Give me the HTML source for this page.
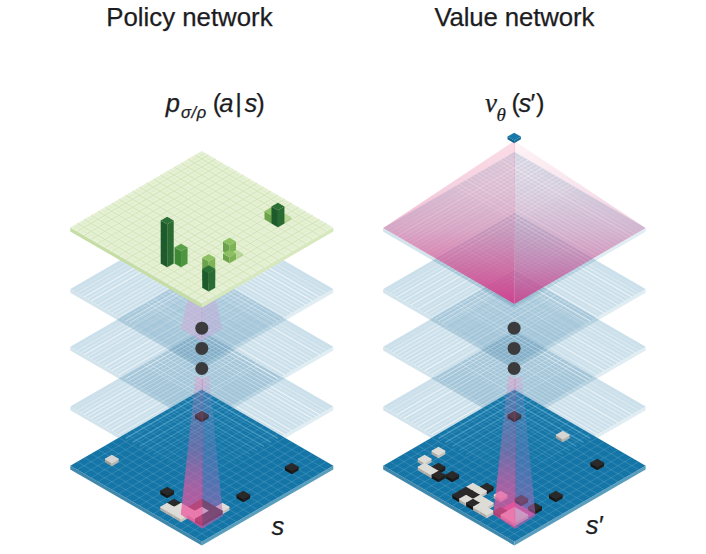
<!DOCTYPE html>
<html><head><meta charset="utf-8"><title>Policy and value networks</title>
<style>html,body{margin:0;padding:0;background:#fff;}body{width:706px;height:554px;overflow:hidden;font-family:"Liberation Sans",sans-serif;}svg{display:block;}</style>
</head><body>
<svg width="706" height="554" viewBox="0 0 706 554" style="isolation:isolate">
<rect width="706" height="554" fill="#ffffff"/>
<defs><filter id="soft" x="0" y="0" width="100%" height="100%" filterUnits="userSpaceOnUse" color-interpolation-filters="sRGB"><feGaussianBlur stdDeviation="0.45"/></filter></defs>
<g filter="url(#soft)">
<rect width="706" height="554" fill="#ffffff"/>
<defs><clipPath id="cbp"><polygon points="201.8,389.7 333.3,465.7 201.8,541.7 70.3,465.7"/></clipPath></defs>
<g style="mix-blend-mode:multiply">
<polygon points="70.3,406.4 201.8,482.4 201.8,486.2 70.3,410.2" fill="#d3e4ec" />
<polygon points="201.8,482.4 333.3,406.4 333.3,410.2 201.8,486.2" fill="#e0edf2" />
<polygon points="201.8,330.4 333.3,406.4 201.8,482.4 70.3,406.4" fill="#cbe0eb" />
</g>
<path d="M208.72 334.4L77.22 410.4" stroke="#ffffff" stroke-width="0.9" stroke-opacity="0.23" fill="none"/>
<path d="M215.64 338.4L84.14 414.4" stroke="#ffffff" stroke-width="0.9" stroke-opacity="0.21" fill="none"/>
<path d="M222.56 342.4L91.06 418.4" stroke="#ffffff" stroke-width="0.9" stroke-opacity="0.2" fill="none"/>
<path d="M229.48 346.4L97.98 422.4" stroke="#ffffff" stroke-width="0.9" stroke-opacity="0.19" fill="none"/>
<path d="M236.41 350.4L104.91 426.4" stroke="#ffffff" stroke-width="0.9" stroke-opacity="0.17" fill="none"/>
<path d="M243.33 354.4L111.83 430.4" stroke="#ffffff" stroke-width="0.9" stroke-opacity="0.16" fill="none"/>
<path d="M250.25 358.4L118.75 434.4" stroke="#ffffff" stroke-width="0.9" stroke-opacity="0.14" fill="none"/>
<path d="M257.17 362.4L125.67 438.4" stroke="#ffffff" stroke-width="0.9" stroke-opacity="0.13" fill="none"/>
<path d="M264.09 366.4L132.59 442.4" stroke="#ffffff" stroke-width="0.9" stroke-opacity="0.12" fill="none"/>
<path d="M271.01 370.4L139.51 446.4" stroke="#ffffff" stroke-width="0.9" stroke-opacity="0.1" fill="none"/>
<path d="M277.93 374.4L146.43 450.4" stroke="#ffffff" stroke-width="0.9" stroke-opacity="0.09" fill="none"/>
<path d="M284.85 378.4L153.35 454.4" stroke="#ffffff" stroke-width="0.9" stroke-opacity="0.08" fill="none"/>
<path d="M291.77 382.4L160.27 458.4" stroke="#ffffff" stroke-width="0.9" stroke-opacity="0.06" fill="none"/>
<path d="M298.69 386.4L167.19 462.4M305.62 390.4L174.12 466.4M312.54 394.4L181.04 470.4M319.46 398.4L187.96 474.4M326.38 402.4L194.88 478.4" stroke="#ffffff" stroke-width="0.9" stroke-opacity="0.05" fill="none"/>
<path d="M194.88 334.4L326.38 410.4" stroke="#ffffff" stroke-width="0.9" stroke-opacity="0.23" fill="none"/>
<path d="M187.96 338.4L319.46 414.4" stroke="#ffffff" stroke-width="0.9" stroke-opacity="0.21" fill="none"/>
<path d="M181.04 342.4L312.54 418.4" stroke="#ffffff" stroke-width="0.9" stroke-opacity="0.2" fill="none"/>
<path d="M174.12 346.4L305.62 422.4" stroke="#ffffff" stroke-width="0.9" stroke-opacity="0.19" fill="none"/>
<path d="M167.19 350.4L298.69 426.4" stroke="#ffffff" stroke-width="0.9" stroke-opacity="0.17" fill="none"/>
<path d="M160.27 354.4L291.77 430.4" stroke="#ffffff" stroke-width="0.9" stroke-opacity="0.16" fill="none"/>
<path d="M153.35 358.4L284.85 434.4" stroke="#ffffff" stroke-width="0.9" stroke-opacity="0.14" fill="none"/>
<path d="M146.43 362.4L277.93 438.4" stroke="#ffffff" stroke-width="0.9" stroke-opacity="0.13" fill="none"/>
<path d="M139.51 366.4L271.01 442.4" stroke="#ffffff" stroke-width="0.9" stroke-opacity="0.12" fill="none"/>
<path d="M132.59 370.4L264.09 446.4" stroke="#ffffff" stroke-width="0.9" stroke-opacity="0.1" fill="none"/>
<path d="M125.67 374.4L257.17 450.4" stroke="#ffffff" stroke-width="0.9" stroke-opacity="0.09" fill="none"/>
<path d="M118.75 378.4L250.25 454.4" stroke="#ffffff" stroke-width="0.9" stroke-opacity="0.08" fill="none"/>
<path d="M111.83 382.4L243.33 458.4" stroke="#ffffff" stroke-width="0.9" stroke-opacity="0.06" fill="none"/>
<path d="M104.91 386.4L236.41 462.4M97.98 390.4L229.48 466.4M91.06 394.4L222.56 470.4M84.14 398.4L215.64 474.4M77.22 402.4L208.72 478.4" stroke="#ffffff" stroke-width="0.9" stroke-opacity="0.05" fill="none"/>
<path d="M205.26 332.4L73.76 408.4M271.01 370.4L139.51 446.4" stroke="#ffffff" stroke-width="1.2" stroke-opacity="0.15" fill="none"/>
<path d="M208.72 334.4L77.22 410.4" stroke="#ffffff" stroke-width="1.2" stroke-opacity="0.2" fill="none"/>
<path d="M212.18 336.4L80.68 412.4" stroke="#ffffff" stroke-width="1.2" stroke-opacity="0.35" fill="none"/>
<path d="M215.64 338.4L84.14 414.4" stroke="#ffffff" stroke-width="1.2" stroke-opacity="0.5" fill="none"/>
<path d="M219.1 340.4L87.6 416.4M222.56 342.4L91.06 418.4" stroke="#ffffff" stroke-width="1.2" stroke-opacity="0.47" fill="none"/>
<path d="M226.02 344.4L94.52 420.4" stroke="#ffffff" stroke-width="1.2" stroke-opacity="0.36" fill="none"/>
<path d="M229.48 346.4L97.98 422.4" stroke="#ffffff" stroke-width="1.2" stroke-opacity="0.51" fill="none"/>
<path d="M232.94 348.4L101.44 424.4" stroke="#ffffff" stroke-width="1.2" stroke-opacity="0.27" fill="none"/>
<path d="M236.41 350.4L104.91 426.4" stroke="#ffffff" stroke-width="1.2" stroke-opacity="0.48" fill="none"/>
<path d="M239.87 352.4L108.37 428.4" stroke="#ffffff" stroke-width="1.2" stroke-opacity="0.39" fill="none"/>
<path d="M243.33 354.4L111.83 430.4" stroke="#ffffff" stroke-width="1.2" stroke-opacity="0.58" fill="none"/>
<path d="M246.79 356.4L115.29 432.4M253.71 360.4L122.21 436.4" stroke="#ffffff" stroke-width="1.2" stroke-opacity="0.25" fill="none"/>
<path d="M250.25 358.4L118.75 434.4M260.63 364.4L129.13 440.4" stroke="#ffffff" stroke-width="1.2" stroke-opacity="0.41" fill="none"/>
<path d="M257.17 362.4L125.67 438.4" stroke="#ffffff" stroke-width="1.2" stroke-opacity="0.59" fill="none"/>
<path d="M264.09 366.4L132.59 442.4" stroke="#ffffff" stroke-width="1.2" stroke-opacity="0.11" fill="none"/>
<path d="M267.55 368.4L136.05 444.4" stroke="#ffffff" stroke-width="1.2" stroke-opacity="0.13" fill="none"/>
<path d="M274.47 372.4L142.97 448.4M277.93 374.4L146.43 450.4" stroke="#ffffff" stroke-width="1.2" stroke-opacity="0.08" fill="none"/>
<path d="M281.39 376.4L149.89 452.4" stroke="#ffffff" stroke-width="1.2" stroke-opacity="0.03" fill="none"/>
<path d="M284.85 378.4L153.35 454.4" stroke="#ffffff" stroke-width="1.2" stroke-opacity="0.02" fill="none"/>
<path d="M288.31 380.4L156.81 456.4" stroke="#ffffff" stroke-width="1.2" stroke-opacity="0.01" fill="none"/>
<path d="M198.34 332.4L329.84 408.4" stroke="#ffffff" stroke-width="1.2" stroke-opacity="0.15" fill="none"/>
<path d="M194.88 334.4L326.38 410.4" stroke="#ffffff" stroke-width="1.2" stroke-opacity="0.2" fill="none"/>
<path d="M191.42 336.4L322.92 412.4" stroke="#ffffff" stroke-width="1.2" stroke-opacity="0.3" fill="none"/>
<path d="M187.96 338.4L319.46 414.4" stroke="#ffffff" stroke-width="1.2" stroke-opacity="0.66" fill="none"/>
<path d="M184.5 340.4L316 416.4" stroke="#ffffff" stroke-width="1.2" stroke-opacity="0.49" fill="none"/>
<path d="M181.04 342.4L312.54 418.4M153.35 358.4L284.85 434.4" stroke="#ffffff" stroke-width="1.2" stroke-opacity="0.6" fill="none"/>
<path d="M177.58 344.4L309.08 420.4" stroke="#ffffff" stroke-width="1.2" stroke-opacity="0.42" fill="none"/>
<path d="M174.12 346.4L305.62 422.4" stroke="#ffffff" stroke-width="1.2" stroke-opacity="0.41" fill="none"/>
<path d="M170.66 348.4L302.16 424.4" stroke="#ffffff" stroke-width="1.2" stroke-opacity="0.29" fill="none"/>
<path d="M167.19 350.4L298.69 426.4" stroke="#ffffff" stroke-width="1.2" stroke-opacity="0.4" fill="none"/>
<path d="M163.73 352.4L295.23 428.4" stroke="#ffffff" stroke-width="1.2" stroke-opacity="0.24" fill="none"/>
<path d="M160.27 354.4L291.77 430.4" stroke="#ffffff" stroke-width="1.2" stroke-opacity="0.58" fill="none"/>
<path d="M156.81 356.4L288.31 432.4M149.89 360.4L281.39 436.4" stroke="#ffffff" stroke-width="1.2" stroke-opacity="0.33" fill="none"/>
<path d="M146.43 362.4L277.93 438.4" stroke="#ffffff" stroke-width="1.2" stroke-opacity="0.64" fill="none"/>
<path d="M142.97 364.4L274.47 440.4" stroke="#ffffff" stroke-width="1.2" stroke-opacity="0.45" fill="none"/>
<path d="M139.51 366.4L271.01 442.4M125.67 374.4L257.17 450.4" stroke="#ffffff" stroke-width="1.2" stroke-opacity="0.1" fill="none"/>
<path d="M136.05 368.4L267.55 444.4" stroke="#ffffff" stroke-width="1.2" stroke-opacity="0.08" fill="none"/>
<path d="M132.59 370.4L264.09 446.4" stroke="#ffffff" stroke-width="1.2" stroke-opacity="0.14" fill="none"/>
<path d="M129.13 372.4L260.63 448.4" stroke="#ffffff" stroke-width="1.2" stroke-opacity="0.07" fill="none"/>
<path d="M122.21 376.4L253.71 452.4" stroke="#ffffff" stroke-width="1.2" stroke-opacity="0.04" fill="none"/>
<path d="M118.75 378.4L250.25 454.4" stroke="#ffffff" stroke-width="1.2" stroke-opacity="0.02" fill="none"/>
<path d="M115.29 380.4L246.79 456.4" stroke="#ffffff" stroke-width="1.2" stroke-opacity="0.01" fill="none"/>
<g style="mix-blend-mode:multiply">
<polygon points="70.3,346.7 201.8,422.7 201.8,426.5 70.3,350.5" fill="#d3e4ec" />
<polygon points="201.8,422.7 333.3,346.7 333.3,350.5 201.8,426.5" fill="#e0edf2" />
<polygon points="201.8,270.7 333.3,346.7 201.8,422.7 70.3,346.7" fill="#cbe0eb" />
</g>
<path d="M208.72 274.7L77.22 350.7" stroke="#ffffff" stroke-width="0.9" stroke-opacity="0.23" fill="none"/>
<path d="M215.64 278.7L84.14 354.7" stroke="#ffffff" stroke-width="0.9" stroke-opacity="0.21" fill="none"/>
<path d="M222.56 282.7L91.06 358.7" stroke="#ffffff" stroke-width="0.9" stroke-opacity="0.2" fill="none"/>
<path d="M229.48 286.7L97.98 362.7" stroke="#ffffff" stroke-width="0.9" stroke-opacity="0.19" fill="none"/>
<path d="M236.41 290.7L104.91 366.7" stroke="#ffffff" stroke-width="0.9" stroke-opacity="0.17" fill="none"/>
<path d="M243.33 294.7L111.83 370.7" stroke="#ffffff" stroke-width="0.9" stroke-opacity="0.16" fill="none"/>
<path d="M250.25 298.7L118.75 374.7" stroke="#ffffff" stroke-width="0.9" stroke-opacity="0.14" fill="none"/>
<path d="M257.17 302.7L125.67 378.7" stroke="#ffffff" stroke-width="0.9" stroke-opacity="0.13" fill="none"/>
<path d="M264.09 306.7L132.59 382.7" stroke="#ffffff" stroke-width="0.9" stroke-opacity="0.12" fill="none"/>
<path d="M271.01 310.7L139.51 386.7" stroke="#ffffff" stroke-width="0.9" stroke-opacity="0.1" fill="none"/>
<path d="M277.93 314.7L146.43 390.7" stroke="#ffffff" stroke-width="0.9" stroke-opacity="0.09" fill="none"/>
<path d="M284.85 318.7L153.35 394.7" stroke="#ffffff" stroke-width="0.9" stroke-opacity="0.08" fill="none"/>
<path d="M291.77 322.7L160.27 398.7" stroke="#ffffff" stroke-width="0.9" stroke-opacity="0.06" fill="none"/>
<path d="M298.69 326.7L167.19 402.7M305.62 330.7L174.12 406.7M312.54 334.7L181.04 410.7M319.46 338.7L187.96 414.7M326.38 342.7L194.88 418.7" stroke="#ffffff" stroke-width="0.9" stroke-opacity="0.05" fill="none"/>
<path d="M194.88 274.7L326.38 350.7" stroke="#ffffff" stroke-width="0.9" stroke-opacity="0.23" fill="none"/>
<path d="M187.96 278.7L319.46 354.7" stroke="#ffffff" stroke-width="0.9" stroke-opacity="0.21" fill="none"/>
<path d="M181.04 282.7L312.54 358.7" stroke="#ffffff" stroke-width="0.9" stroke-opacity="0.2" fill="none"/>
<path d="M174.12 286.7L305.62 362.7" stroke="#ffffff" stroke-width="0.9" stroke-opacity="0.19" fill="none"/>
<path d="M167.19 290.7L298.69 366.7" stroke="#ffffff" stroke-width="0.9" stroke-opacity="0.17" fill="none"/>
<path d="M160.27 294.7L291.77 370.7" stroke="#ffffff" stroke-width="0.9" stroke-opacity="0.16" fill="none"/>
<path d="M153.35 298.7L284.85 374.7" stroke="#ffffff" stroke-width="0.9" stroke-opacity="0.14" fill="none"/>
<path d="M146.43 302.7L277.93 378.7" stroke="#ffffff" stroke-width="0.9" stroke-opacity="0.13" fill="none"/>
<path d="M139.51 306.7L271.01 382.7" stroke="#ffffff" stroke-width="0.9" stroke-opacity="0.12" fill="none"/>
<path d="M132.59 310.7L264.09 386.7" stroke="#ffffff" stroke-width="0.9" stroke-opacity="0.1" fill="none"/>
<path d="M125.67 314.7L257.17 390.7" stroke="#ffffff" stroke-width="0.9" stroke-opacity="0.09" fill="none"/>
<path d="M118.75 318.7L250.25 394.7" stroke="#ffffff" stroke-width="0.9" stroke-opacity="0.08" fill="none"/>
<path d="M111.83 322.7L243.33 398.7" stroke="#ffffff" stroke-width="0.9" stroke-opacity="0.06" fill="none"/>
<path d="M104.91 326.7L236.41 402.7M97.98 330.7L229.48 406.7M91.06 334.7L222.56 410.7M84.14 338.7L215.64 414.7M77.22 342.7L208.72 418.7" stroke="#ffffff" stroke-width="0.9" stroke-opacity="0.05" fill="none"/>
<path d="M205.26 272.7L73.76 348.7" stroke="#ffffff" stroke-width="1.2" stroke-opacity="0.15" fill="none"/>
<path d="M208.72 274.7L77.22 350.7" stroke="#ffffff" stroke-width="1.2" stroke-opacity="0.2" fill="none"/>
<path d="M212.18 276.7L80.68 352.7M222.56 282.7L91.06 358.7" stroke="#ffffff" stroke-width="1.2" stroke-opacity="0.35" fill="none"/>
<path d="M215.64 278.7L84.14 354.7M250.25 298.7L118.75 374.7" stroke="#ffffff" stroke-width="1.2" stroke-opacity="0.54" fill="none"/>
<path d="M219.1 280.7L87.6 356.7" stroke="#ffffff" stroke-width="1.2" stroke-opacity="0.4" fill="none"/>
<path d="M226.02 284.7L94.52 360.7" stroke="#ffffff" stroke-width="1.2" stroke-opacity="0.23" fill="none"/>
<path d="M229.48 286.7L97.98 362.7" stroke="#ffffff" stroke-width="1.2" stroke-opacity="0.43" fill="none"/>
<path d="M232.94 288.7L101.44 364.7" stroke="#ffffff" stroke-width="1.2" stroke-opacity="0.3" fill="none"/>
<path d="M236.41 290.7L104.91 366.7" stroke="#ffffff" stroke-width="1.2" stroke-opacity="0.59" fill="none"/>
<path d="M239.87 292.7L108.37 368.7" stroke="#ffffff" stroke-width="1.2" stroke-opacity="0.41" fill="none"/>
<path d="M243.33 294.7L111.83 370.7" stroke="#ffffff" stroke-width="1.2" stroke-opacity="0.52" fill="none"/>
<path d="M246.79 296.7L115.29 372.7" stroke="#ffffff" stroke-width="1.2" stroke-opacity="0.37" fill="none"/>
<path d="M253.71 300.7L122.21 376.7" stroke="#ffffff" stroke-width="1.2" stroke-opacity="0.26" fill="none"/>
<path d="M257.17 302.7L125.67 378.7" stroke="#ffffff" stroke-width="1.2" stroke-opacity="0.46" fill="none"/>
<path d="M260.63 304.7L129.13 380.7" stroke="#ffffff" stroke-width="1.2" stroke-opacity="0.27" fill="none"/>
<path d="M264.09 306.7L132.59 382.7" stroke="#ffffff" stroke-width="1.2" stroke-opacity="0.19" fill="none"/>
<path d="M267.55 308.7L136.05 384.7" stroke="#ffffff" stroke-width="1.2" stroke-opacity="0.07" fill="none"/>
<path d="M271.01 310.7L139.51 386.7" stroke="#ffffff" stroke-width="1.2" stroke-opacity="0.14" fill="none"/>
<path d="M274.47 312.7L142.97 388.7" stroke="#ffffff" stroke-width="1.2" stroke-opacity="0.05" fill="none"/>
<path d="M277.93 314.7L146.43 390.7" stroke="#ffffff" stroke-width="1.2" stroke-opacity="0.08" fill="none"/>
<path d="M281.39 316.7L149.89 392.7" stroke="#ffffff" stroke-width="1.2" stroke-opacity="0.04" fill="none"/>
<path d="M284.85 318.7L153.35 394.7" stroke="#ffffff" stroke-width="1.2" stroke-opacity="0.03" fill="none"/>
<path d="M288.31 320.7L156.81 396.7" stroke="#ffffff" stroke-width="1.2" stroke-opacity="0.01" fill="none"/>
<path d="M198.34 272.7L329.84 348.7" stroke="#ffffff" stroke-width="1.2" stroke-opacity="0.15" fill="none"/>
<path d="M194.88 274.7L326.38 350.7" stroke="#ffffff" stroke-width="1.2" stroke-opacity="0.2" fill="none"/>
<path d="M191.42 276.7L322.92 352.7" stroke="#ffffff" stroke-width="1.2" stroke-opacity="0.27" fill="none"/>
<path d="M187.96 278.7L319.46 354.7" stroke="#ffffff" stroke-width="1.2" stroke-opacity="0.55" fill="none"/>
<path d="M184.5 280.7L316 356.7" stroke="#ffffff" stroke-width="1.2" stroke-opacity="0.24" fill="none"/>
<path d="M181.04 282.7L312.54 358.7" stroke="#ffffff" stroke-width="1.2" stroke-opacity="0.36" fill="none"/>
<path d="M177.58 284.7L309.08 360.7M174.12 286.7L305.62 362.7M160.27 294.7L291.77 370.7" stroke="#ffffff" stroke-width="1.2" stroke-opacity="0.44" fill="none"/>
<path d="M170.66 288.7L302.16 364.7" stroke="#ffffff" stroke-width="1.2" stroke-opacity="0.34" fill="none"/>
<path d="M167.19 290.7L298.69 366.7" stroke="#ffffff" stroke-width="1.2" stroke-opacity="0.51" fill="none"/>
<path d="M163.73 292.7L295.23 368.7" stroke="#ffffff" stroke-width="1.2" stroke-opacity="0.35" fill="none"/>
<path d="M156.81 296.7L288.31 372.7" stroke="#ffffff" stroke-width="1.2" stroke-opacity="0.23" fill="none"/>
<path d="M153.35 298.7L284.85 374.7" stroke="#ffffff" stroke-width="1.2" stroke-opacity="0.56" fill="none"/>
<path d="M149.89 300.7L281.39 376.7" stroke="#ffffff" stroke-width="1.2" stroke-opacity="0.49" fill="none"/>
<path d="M146.43 302.7L277.93 378.7" stroke="#ffffff" stroke-width="1.2" stroke-opacity="0.65" fill="none"/>
<path d="M142.97 304.7L274.47 380.7" stroke="#ffffff" stroke-width="1.2" stroke-opacity="0.4" fill="none"/>
<path d="M139.51 306.7L271.01 382.7" stroke="#ffffff" stroke-width="1.2" stroke-opacity="0.14" fill="none"/>
<path d="M136.05 308.7L267.55 384.7" stroke="#ffffff" stroke-width="1.2" stroke-opacity="0.09" fill="none"/>
<path d="M132.59 310.7L264.09 386.7" stroke="#ffffff" stroke-width="1.2" stroke-opacity="0.13" fill="none"/>
<path d="M129.13 312.7L260.63 388.7" stroke="#ffffff" stroke-width="1.2" stroke-opacity="0.08" fill="none"/>
<path d="M125.67 314.7L257.17 390.7" stroke="#ffffff" stroke-width="1.2" stroke-opacity="0.06" fill="none"/>
<path d="M122.21 316.7L253.71 392.7M118.75 318.7L250.25 394.7" stroke="#ffffff" stroke-width="1.2" stroke-opacity="0.03" fill="none"/>
<path d="M115.29 320.7L246.79 396.7" stroke="#ffffff" stroke-width="1.2" stroke-opacity="0.01" fill="none"/>
<g style="mix-blend-mode:multiply">
<polygon points="70.3,289 201.8,365 201.8,368.8 70.3,292.8" fill="#d3e4ec" />
<polygon points="201.8,365 333.3,289 333.3,292.8 201.8,368.8" fill="#e0edf2" />
<polygon points="201.8,213 333.3,289 201.8,365 70.3,289" fill="#cbe0eb" />
</g>
<path d="M208.72 217L77.22 293" stroke="#ffffff" stroke-width="0.9" stroke-opacity="0.23" fill="none"/>
<path d="M215.64 221L84.14 297" stroke="#ffffff" stroke-width="0.9" stroke-opacity="0.21" fill="none"/>
<path d="M222.56 225L91.06 301" stroke="#ffffff" stroke-width="0.9" stroke-opacity="0.2" fill="none"/>
<path d="M229.48 229L97.98 305" stroke="#ffffff" stroke-width="0.9" stroke-opacity="0.19" fill="none"/>
<path d="M236.41 233L104.91 309" stroke="#ffffff" stroke-width="0.9" stroke-opacity="0.17" fill="none"/>
<path d="M243.33 237L111.83 313" stroke="#ffffff" stroke-width="0.9" stroke-opacity="0.16" fill="none"/>
<path d="M250.25 241L118.75 317" stroke="#ffffff" stroke-width="0.9" stroke-opacity="0.14" fill="none"/>
<path d="M257.17 245L125.67 321" stroke="#ffffff" stroke-width="0.9" stroke-opacity="0.13" fill="none"/>
<path d="M264.09 249L132.59 325" stroke="#ffffff" stroke-width="0.9" stroke-opacity="0.12" fill="none"/>
<path d="M271.01 253L139.51 329" stroke="#ffffff" stroke-width="0.9" stroke-opacity="0.1" fill="none"/>
<path d="M277.93 257L146.43 333" stroke="#ffffff" stroke-width="0.9" stroke-opacity="0.09" fill="none"/>
<path d="M284.85 261L153.35 337" stroke="#ffffff" stroke-width="0.9" stroke-opacity="0.08" fill="none"/>
<path d="M291.77 265L160.27 341" stroke="#ffffff" stroke-width="0.9" stroke-opacity="0.06" fill="none"/>
<path d="M298.69 269L167.19 345M305.62 273L174.12 349M312.54 277L181.04 353M319.46 281L187.96 357M326.38 285L194.88 361" stroke="#ffffff" stroke-width="0.9" stroke-opacity="0.05" fill="none"/>
<path d="M194.88 217L326.38 293" stroke="#ffffff" stroke-width="0.9" stroke-opacity="0.23" fill="none"/>
<path d="M187.96 221L319.46 297" stroke="#ffffff" stroke-width="0.9" stroke-opacity="0.21" fill="none"/>
<path d="M181.04 225L312.54 301" stroke="#ffffff" stroke-width="0.9" stroke-opacity="0.2" fill="none"/>
<path d="M174.12 229L305.62 305" stroke="#ffffff" stroke-width="0.9" stroke-opacity="0.19" fill="none"/>
<path d="M167.19 233L298.69 309" stroke="#ffffff" stroke-width="0.9" stroke-opacity="0.17" fill="none"/>
<path d="M160.27 237L291.77 313" stroke="#ffffff" stroke-width="0.9" stroke-opacity="0.16" fill="none"/>
<path d="M153.35 241L284.85 317" stroke="#ffffff" stroke-width="0.9" stroke-opacity="0.14" fill="none"/>
<path d="M146.43 245L277.93 321" stroke="#ffffff" stroke-width="0.9" stroke-opacity="0.13" fill="none"/>
<path d="M139.51 249L271.01 325" stroke="#ffffff" stroke-width="0.9" stroke-opacity="0.12" fill="none"/>
<path d="M132.59 253L264.09 329" stroke="#ffffff" stroke-width="0.9" stroke-opacity="0.1" fill="none"/>
<path d="M125.67 257L257.17 333" stroke="#ffffff" stroke-width="0.9" stroke-opacity="0.09" fill="none"/>
<path d="M118.75 261L250.25 337" stroke="#ffffff" stroke-width="0.9" stroke-opacity="0.08" fill="none"/>
<path d="M111.83 265L243.33 341" stroke="#ffffff" stroke-width="0.9" stroke-opacity="0.06" fill="none"/>
<path d="M104.91 269L236.41 345M97.98 273L229.48 349M91.06 277L222.56 353M84.14 281L215.64 357M77.22 285L208.72 361" stroke="#ffffff" stroke-width="0.9" stroke-opacity="0.05" fill="none"/>
<path d="M205.26 215L73.76 291" stroke="#ffffff" stroke-width="1.2" stroke-opacity="0.15" fill="none"/>
<path d="M208.72 217L77.22 293" stroke="#ffffff" stroke-width="1.2" stroke-opacity="0.2" fill="none"/>
<path d="M212.18 219L80.68 295" stroke="#ffffff" stroke-width="1.2" stroke-opacity="0.29" fill="none"/>
<path d="M215.64 221L84.14 297" stroke="#ffffff" stroke-width="1.2" stroke-opacity="0.55" fill="none"/>
<path d="M219.1 223L87.6 299" stroke="#ffffff" stroke-width="1.2" stroke-opacity="0.41" fill="none"/>
<path d="M222.56 225L91.06 301" stroke="#ffffff" stroke-width="1.2" stroke-opacity="0.61" fill="none"/>
<path d="M226.02 227L94.52 303" stroke="#ffffff" stroke-width="1.2" stroke-opacity="0.27" fill="none"/>
<path d="M229.48 229L97.98 305M236.41 233L104.91 309" stroke="#ffffff" stroke-width="1.2" stroke-opacity="0.38" fill="none"/>
<path d="M232.94 231L101.44 307" stroke="#ffffff" stroke-width="1.2" stroke-opacity="0.26" fill="none"/>
<path d="M239.87 235L108.37 311" stroke="#ffffff" stroke-width="1.2" stroke-opacity="0.42" fill="none"/>
<path d="M243.33 237L111.83 313" stroke="#ffffff" stroke-width="1.2" stroke-opacity="0.34" fill="none"/>
<path d="M246.79 239L115.29 315M250.25 241L118.75 317" stroke="#ffffff" stroke-width="1.2" stroke-opacity="0.37" fill="none"/>
<path d="M253.71 243L122.21 319" stroke="#ffffff" stroke-width="1.2" stroke-opacity="0.3" fill="none"/>
<path d="M257.17 245L125.67 321M260.63 247L129.13 323" stroke="#ffffff" stroke-width="1.2" stroke-opacity="0.45" fill="none"/>
<path d="M264.09 249L132.59 325" stroke="#ffffff" stroke-width="1.2" stroke-opacity="0.16" fill="none"/>
<path d="M267.55 251L136.05 327" stroke="#ffffff" stroke-width="1.2" stroke-opacity="0.07" fill="none"/>
<path d="M271.01 253L139.51 329" stroke="#ffffff" stroke-width="1.2" stroke-opacity="0.1" fill="none"/>
<path d="M274.47 255L142.97 331M281.39 259L149.89 335" stroke="#ffffff" stroke-width="1.2" stroke-opacity="0.05" fill="none"/>
<path d="M277.93 257L146.43 333" stroke="#ffffff" stroke-width="1.2" stroke-opacity="0.09" fill="none"/>
<path d="M284.85 261L153.35 337" stroke="#ffffff" stroke-width="1.2" stroke-opacity="0.04" fill="none"/>
<path d="M288.31 263L156.81 339" stroke="#ffffff" stroke-width="1.2" stroke-opacity="0.01" fill="none"/>
<path d="M198.34 215L329.84 291" stroke="#ffffff" stroke-width="1.2" stroke-opacity="0.15" fill="none"/>
<path d="M194.88 217L326.38 293" stroke="#ffffff" stroke-width="1.2" stroke-opacity="0.2" fill="none"/>
<path d="M191.42 219L322.92 295" stroke="#ffffff" stroke-width="1.2" stroke-opacity="0.25" fill="none"/>
<path d="M187.96 221L319.46 297" stroke="#ffffff" stroke-width="1.2" stroke-opacity="0.59" fill="none"/>
<path d="M184.5 223L316 299" stroke="#ffffff" stroke-width="1.2" stroke-opacity="0.44" fill="none"/>
<path d="M181.04 225L312.54 301" stroke="#ffffff" stroke-width="1.2" stroke-opacity="0.65" fill="none"/>
<path d="M177.58 227L309.08 303M163.73 235L295.23 311" stroke="#ffffff" stroke-width="1.2" stroke-opacity="0.41" fill="none"/>
<path d="M174.12 229L305.62 305" stroke="#ffffff" stroke-width="1.2" stroke-opacity="0.5" fill="none"/>
<path d="M170.66 231L302.16 307" stroke="#ffffff" stroke-width="1.2" stroke-opacity="0.43" fill="none"/>
<path d="M167.19 233L298.69 309M142.97 247L274.47 323" stroke="#ffffff" stroke-width="1.2" stroke-opacity="0.35" fill="none"/>
<path d="M160.27 237L291.77 313" stroke="#ffffff" stroke-width="1.2" stroke-opacity="0.46" fill="none"/>
<path d="M156.81 239L288.31 315" stroke="#ffffff" stroke-width="1.2" stroke-opacity="0.27" fill="none"/>
<path d="M153.35 241L284.85 317M149.89 243L281.39 319" stroke="#ffffff" stroke-width="1.2" stroke-opacity="0.37" fill="none"/>
<path d="M146.43 245L277.93 321" stroke="#ffffff" stroke-width="1.2" stroke-opacity="0.39" fill="none"/>
<path d="M139.51 249L271.01 325" stroke="#ffffff" stroke-width="1.2" stroke-opacity="0.16" fill="none"/>
<path d="M136.05 251L267.55 327M132.59 253L264.09 329" stroke="#ffffff" stroke-width="1.2" stroke-opacity="0.09" fill="none"/>
<path d="M129.13 255L260.63 331" stroke="#ffffff" stroke-width="1.2" stroke-opacity="0.07" fill="none"/>
<path d="M125.67 257L257.17 333" stroke="#ffffff" stroke-width="1.2" stroke-opacity="0.06" fill="none"/>
<path d="M122.21 259L253.71 335M118.75 261L250.25 337" stroke="#ffffff" stroke-width="1.2" stroke-opacity="0.03" fill="none"/>
<path d="M115.29 263L246.79 339" stroke="#ffffff" stroke-width="1.2" stroke-opacity="0.01" fill="none"/>
<polygon points="70.3,465.7 201.8,541.7 201.8,545.5 70.3,469.5" fill="#3f88ac" />
<polygon points="201.8,541.7 333.3,465.7 333.3,469.5 201.8,545.5" fill="#5a9ebd" />
<polygon points="201.8,389.7 333.3,465.7 201.8,541.7 70.3,465.7" fill="#1575a6" />
<path d="M208.72 393.7L77.22 469.7M215.64 397.7L84.14 473.7M222.56 401.7L91.06 477.7M229.48 405.7L97.98 481.7M236.41 409.7L104.91 485.7M243.33 413.7L111.83 489.7M250.25 417.7L118.75 493.7M257.17 421.7L125.67 497.7M264.09 425.7L132.59 501.7M271.01 429.7L139.51 505.7M277.93 433.7L146.43 509.7M284.85 437.7L153.35 513.7M291.77 441.7L160.27 517.7M298.69 445.7L167.19 521.7M305.62 449.7L174.12 525.7M312.54 453.7L181.04 529.7M319.46 457.7L187.96 533.7M326.38 461.7L194.88 537.7" stroke="#8cc6e2" stroke-width="0.8" stroke-opacity="0.3" fill="none"/>
<path d="M194.88 393.7L326.38 469.7M187.96 397.7L319.46 473.7M181.04 401.7L312.54 477.7M174.12 405.7L305.62 481.7M167.19 409.7L298.69 485.7M160.27 413.7L291.77 489.7M153.35 417.7L284.85 493.7M146.43 421.7L277.93 497.7M139.51 425.7L271.01 501.7M132.59 429.7L264.09 505.7M125.67 433.7L257.17 509.7M118.75 437.7L250.25 513.7M111.83 441.7L243.33 517.7M104.91 445.7L236.41 521.7M97.98 449.7L229.48 525.7M91.06 453.7L222.56 529.7M84.14 457.7L215.64 533.7M77.22 461.7L208.72 537.7" stroke="#8cc6e2" stroke-width="0.8" stroke-opacity="0.3" fill="none"/>
<path d="M208.72 334.4L77.22 410.4" stroke="#93d6f0" stroke-width="1.3" stroke-opacity="0.8" fill="none" clip-path="url(#cbp)"/>
<path d="M215.64 338.4L84.14 414.4" stroke="#93d6f0" stroke-width="1.3" stroke-opacity="0.74" fill="none" clip-path="url(#cbp)"/>
<path d="M222.56 342.4L91.06 418.4" stroke="#93d6f0" stroke-width="1.3" stroke-opacity="0.69" fill="none" clip-path="url(#cbp)"/>
<path d="M229.48 346.4L97.98 422.4" stroke="#93d6f0" stroke-width="1.3" stroke-opacity="0.63" fill="none" clip-path="url(#cbp)"/>
<path d="M236.41 350.4L104.91 426.4" stroke="#93d6f0" stroke-width="1.3" stroke-opacity="0.58" fill="none" clip-path="url(#cbp)"/>
<path d="M243.33 354.4L111.83 430.4" stroke="#93d6f0" stroke-width="1.3" stroke-opacity="0.53" fill="none" clip-path="url(#cbp)"/>
<path d="M250.25 358.4L118.75 434.4" stroke="#93d6f0" stroke-width="1.3" stroke-opacity="0.47" fill="none" clip-path="url(#cbp)"/>
<path d="M257.17 362.4L125.67 438.4" stroke="#93d6f0" stroke-width="1.3" stroke-opacity="0.42" fill="none" clip-path="url(#cbp)"/>
<path d="M264.09 366.4L132.59 442.4" stroke="#93d6f0" stroke-width="1.3" stroke-opacity="0.37" fill="none" clip-path="url(#cbp)"/>
<path d="M271.01 370.4L139.51 446.4" stroke="#93d6f0" stroke-width="1.3" stroke-opacity="0.31" fill="none" clip-path="url(#cbp)"/>
<path d="M277.93 374.4L146.43 450.4" stroke="#93d6f0" stroke-width="1.3" stroke-opacity="0.26" fill="none" clip-path="url(#cbp)"/>
<path d="M284.85 378.4L153.35 454.4" stroke="#93d6f0" stroke-width="1.3" stroke-opacity="0.2" fill="none" clip-path="url(#cbp)"/>
<path d="M291.77 382.4L160.27 458.4" stroke="#93d6f0" stroke-width="1.3" stroke-opacity="0.15" fill="none" clip-path="url(#cbp)"/>
<path d="M298.69 386.4L167.19 462.4" stroke="#93d6f0" stroke-width="1.3" stroke-opacity="0.1" fill="none" clip-path="url(#cbp)"/>
<path d="M305.62 390.4L174.12 466.4M312.54 394.4L181.04 470.4M319.46 398.4L187.96 474.4M326.38 402.4L194.88 478.4" stroke="#93d6f0" stroke-width="1.3" stroke-opacity="0.04" fill="none" clip-path="url(#cbp)"/>
<path d="M194.88 334.4L326.38 410.4" stroke="#93d6f0" stroke-width="1.3" stroke-opacity="0.8" fill="none" clip-path="url(#cbp)"/>
<path d="M187.96 338.4L319.46 414.4" stroke="#93d6f0" stroke-width="1.3" stroke-opacity="0.74" fill="none" clip-path="url(#cbp)"/>
<path d="M181.04 342.4L312.54 418.4" stroke="#93d6f0" stroke-width="1.3" stroke-opacity="0.69" fill="none" clip-path="url(#cbp)"/>
<path d="M174.12 346.4L305.62 422.4" stroke="#93d6f0" stroke-width="1.3" stroke-opacity="0.63" fill="none" clip-path="url(#cbp)"/>
<path d="M167.19 350.4L298.69 426.4" stroke="#93d6f0" stroke-width="1.3" stroke-opacity="0.58" fill="none" clip-path="url(#cbp)"/>
<path d="M160.27 354.4L291.77 430.4" stroke="#93d6f0" stroke-width="1.3" stroke-opacity="0.53" fill="none" clip-path="url(#cbp)"/>
<path d="M153.35 358.4L284.85 434.4" stroke="#93d6f0" stroke-width="1.3" stroke-opacity="0.47" fill="none" clip-path="url(#cbp)"/>
<path d="M146.43 362.4L277.93 438.4" stroke="#93d6f0" stroke-width="1.3" stroke-opacity="0.42" fill="none" clip-path="url(#cbp)"/>
<path d="M139.51 366.4L271.01 442.4" stroke="#93d6f0" stroke-width="1.3" stroke-opacity="0.37" fill="none" clip-path="url(#cbp)"/>
<path d="M132.59 370.4L264.09 446.4" stroke="#93d6f0" stroke-width="1.3" stroke-opacity="0.31" fill="none" clip-path="url(#cbp)"/>
<path d="M125.67 374.4L257.17 450.4" stroke="#93d6f0" stroke-width="1.3" stroke-opacity="0.26" fill="none" clip-path="url(#cbp)"/>
<path d="M118.75 378.4L250.25 454.4" stroke="#93d6f0" stroke-width="1.3" stroke-opacity="0.2" fill="none" clip-path="url(#cbp)"/>
<path d="M111.83 382.4L243.33 458.4" stroke="#93d6f0" stroke-width="1.3" stroke-opacity="0.15" fill="none" clip-path="url(#cbp)"/>
<path d="M104.91 386.4L236.41 462.4" stroke="#93d6f0" stroke-width="1.3" stroke-opacity="0.1" fill="none" clip-path="url(#cbp)"/>
<path d="M97.98 390.4L229.48 466.4M91.06 394.4L222.56 470.4M84.14 398.4L215.64 474.4M77.22 402.4L208.72 478.4" stroke="#93d6f0" stroke-width="1.3" stroke-opacity="0.04" fill="none" clip-path="url(#cbp)"/>
<path d="M208.72 274.7L77.22 350.7" stroke="#9fdcf4" stroke-width="0.9" stroke-opacity="0.28" fill="none" clip-path="url(#cbp)"/>
<path d="M215.64 278.7L84.14 354.7" stroke="#9fdcf4" stroke-width="0.9" stroke-opacity="0.25" fill="none" clip-path="url(#cbp)"/>
<path d="M222.56 282.7L91.06 358.7" stroke="#9fdcf4" stroke-width="0.9" stroke-opacity="0.23" fill="none" clip-path="url(#cbp)"/>
<path d="M229.48 286.7L97.98 362.7" stroke="#9fdcf4" stroke-width="0.9" stroke-opacity="0.2" fill="none" clip-path="url(#cbp)"/>
<path d="M236.41 290.7L104.91 366.7" stroke="#9fdcf4" stroke-width="0.9" stroke-opacity="0.18" fill="none" clip-path="url(#cbp)"/>
<path d="M243.33 294.7L111.83 370.7" stroke="#9fdcf4" stroke-width="0.9" stroke-opacity="0.16" fill="none" clip-path="url(#cbp)"/>
<path d="M250.25 298.7L118.75 374.7" stroke="#9fdcf4" stroke-width="0.9" stroke-opacity="0.13" fill="none" clip-path="url(#cbp)"/>
<path d="M257.17 302.7L125.67 378.7" stroke="#9fdcf4" stroke-width="0.9" stroke-opacity="0.11" fill="none" clip-path="url(#cbp)"/>
<path d="M264.09 306.7L132.59 382.7" stroke="#9fdcf4" stroke-width="0.9" stroke-opacity="0.09" fill="none" clip-path="url(#cbp)"/>
<path d="M271.01 310.7L139.51 386.7" stroke="#9fdcf4" stroke-width="0.9" stroke-opacity="0.06" fill="none" clip-path="url(#cbp)"/>
<path d="M277.93 314.7L146.43 390.7" stroke="#9fdcf4" stroke-width="0.9" stroke-opacity="0.04" fill="none" clip-path="url(#cbp)"/>
<path d="M284.85 318.7L153.35 394.7" stroke="#9fdcf4" stroke-width="0.9" stroke-opacity="0.02" fill="none" clip-path="url(#cbp)"/>
<path d="M291.77 322.7L160.27 398.7M298.69 326.7L167.19 402.7M305.62 330.7L174.12 406.7M312.54 334.7L181.04 410.7M319.46 338.7L187.96 414.7M326.38 342.7L194.88 418.7" stroke="#9fdcf4" stroke-width="0.9" stroke-opacity="0.01" fill="none" clip-path="url(#cbp)"/>
<path d="M194.88 274.7L326.38 350.7" stroke="#9fdcf4" stroke-width="0.9" stroke-opacity="0.28" fill="none" clip-path="url(#cbp)"/>
<path d="M187.96 278.7L319.46 354.7" stroke="#9fdcf4" stroke-width="0.9" stroke-opacity="0.25" fill="none" clip-path="url(#cbp)"/>
<path d="M181.04 282.7L312.54 358.7" stroke="#9fdcf4" stroke-width="0.9" stroke-opacity="0.23" fill="none" clip-path="url(#cbp)"/>
<path d="M174.12 286.7L305.62 362.7" stroke="#9fdcf4" stroke-width="0.9" stroke-opacity="0.2" fill="none" clip-path="url(#cbp)"/>
<path d="M167.19 290.7L298.69 366.7" stroke="#9fdcf4" stroke-width="0.9" stroke-opacity="0.18" fill="none" clip-path="url(#cbp)"/>
<path d="M160.27 294.7L291.77 370.7" stroke="#9fdcf4" stroke-width="0.9" stroke-opacity="0.16" fill="none" clip-path="url(#cbp)"/>
<path d="M153.35 298.7L284.85 374.7" stroke="#9fdcf4" stroke-width="0.9" stroke-opacity="0.13" fill="none" clip-path="url(#cbp)"/>
<path d="M146.43 302.7L277.93 378.7" stroke="#9fdcf4" stroke-width="0.9" stroke-opacity="0.11" fill="none" clip-path="url(#cbp)"/>
<path d="M139.51 306.7L271.01 382.7" stroke="#9fdcf4" stroke-width="0.9" stroke-opacity="0.09" fill="none" clip-path="url(#cbp)"/>
<path d="M132.59 310.7L264.09 386.7" stroke="#9fdcf4" stroke-width="0.9" stroke-opacity="0.06" fill="none" clip-path="url(#cbp)"/>
<path d="M125.67 314.7L257.17 390.7" stroke="#9fdcf4" stroke-width="0.9" stroke-opacity="0.04" fill="none" clip-path="url(#cbp)"/>
<path d="M118.75 318.7L250.25 394.7" stroke="#9fdcf4" stroke-width="0.9" stroke-opacity="0.02" fill="none" clip-path="url(#cbp)"/>
<path d="M111.83 322.7L243.33 398.7M104.91 326.7L236.41 402.7M97.98 330.7L229.48 406.7M91.06 334.7L222.56 410.7M84.14 338.7L215.64 414.7M77.22 342.7L208.72 418.7" stroke="#9fdcf4" stroke-width="0.9" stroke-opacity="0.01" fill="none" clip-path="url(#cbp)"/>
<polygon points="201.8,501.7 222.56,513.7 201.8,525.7 181.04,513.7" fill="rgba(233,80,152,0.85)" />
<polygon points="195.71,415.1 201.8,418.62 201.8,421.22 195.71,417.7" fill="#151515" stroke="#151515" stroke-linejoin="round" stroke-width="1.6"/>
<polygon points="201.8,418.62 207.89,415.1 207.89,417.7 201.8,421.22" fill="#1d1d1d" stroke="#1d1d1d" stroke-linejoin="round" stroke-width="1.6"/>
<polygon points="201.8,411.58 207.89,415.1 201.8,418.62 195.71,415.1" fill="#2a2a2a" stroke="#2a2a2a" stroke-linejoin="round" stroke-width="1.6"/>
<polygon points="105.74,459.1 111.83,462.62 111.83,465.22 105.74,461.7" fill="#9c9c9a" stroke="#9c9c9a" stroke-linejoin="round" stroke-width="1.6"/>
<polygon points="111.83,462.62 117.92,459.1 117.92,461.7 111.83,465.22" fill="#b4b4b2" stroke="#b4b4b2" stroke-linejoin="round" stroke-width="1.6"/>
<polygon points="111.83,455.58 117.92,459.1 111.83,462.62 105.74,459.1" fill="#d5d5d3" stroke="#d5d5d3" stroke-linejoin="round" stroke-width="1.6"/>
<polygon points="285.68,467.1 291.77,470.62 291.77,473.22 285.68,469.7" fill="#151515" stroke="#151515" stroke-linejoin="round" stroke-width="1.6"/>
<polygon points="291.77,470.62 297.86,467.1 297.86,469.7 291.77,473.22" fill="#1d1d1d" stroke="#1d1d1d" stroke-linejoin="round" stroke-width="1.6"/>
<polygon points="291.77,463.58 297.86,467.1 291.77,470.62 285.68,467.1" fill="#2a2a2a" stroke="#2a2a2a" stroke-linejoin="round" stroke-width="1.6"/>
<polygon points="161.1,491.1 167.19,494.62 167.19,497.22 161.1,493.7" fill="#151515" stroke="#151515" stroke-linejoin="round" stroke-width="1.6"/>
<polygon points="167.19,494.62 173.29,491.1 173.29,493.7 167.19,497.22" fill="#1d1d1d" stroke="#1d1d1d" stroke-linejoin="round" stroke-width="1.6"/>
<polygon points="167.19,487.58 173.29,491.1 167.19,494.62 161.1,491.1" fill="#2a2a2a" stroke="#2a2a2a" stroke-linejoin="round" stroke-width="1.6"/>
<polygon points="237.24,495.1 243.33,498.62 243.33,501.22 237.24,497.7" fill="#151515" stroke="#151515" stroke-linejoin="round" stroke-width="1.6"/>
<polygon points="243.33,498.62 249.42,495.1 249.42,497.7 243.33,501.22" fill="#1d1d1d" stroke="#1d1d1d" stroke-linejoin="round" stroke-width="1.6"/>
<polygon points="243.33,491.58 249.42,495.1 243.33,498.62 237.24,495.1" fill="#2a2a2a" stroke="#2a2a2a" stroke-linejoin="round" stroke-width="1.6"/>
<polygon points="168.03,503.1 174.12,506.62 174.12,509.22 168.03,505.7" fill="#151515" stroke="#151515" stroke-linejoin="round" stroke-width="1.6"/>
<polygon points="174.12,506.62 180.21,503.1 180.21,505.7 174.12,509.22" fill="#1d1d1d" stroke="#1d1d1d" stroke-linejoin="round" stroke-width="1.6"/>
<polygon points="174.12,499.58 180.21,503.1 174.12,506.62 168.03,503.1" fill="#2a2a2a" stroke="#2a2a2a" stroke-linejoin="round" stroke-width="1.6"/>
<polygon points="195.71,503.1 201.8,506.62 201.8,509.22 195.71,505.7" fill="#151515" stroke="#151515" stroke-linejoin="round" stroke-width="1.6"/>
<polygon points="201.8,506.62 207.89,503.1 207.89,505.7 201.8,509.22" fill="#1d1d1d" stroke="#1d1d1d" stroke-linejoin="round" stroke-width="1.6"/>
<polygon points="201.8,499.58 207.89,503.1 201.8,506.62 195.71,503.1" fill="#2a2a2a" stroke="#2a2a2a" stroke-linejoin="round" stroke-width="1.6"/>
<polygon points="161.1,507.1 167.19,510.62 167.19,513.22 161.1,509.7" fill="#adaca8" stroke="#adaca8" stroke-linejoin="round" stroke-width="1.6"/>
<polygon points="167.19,510.62 173.29,507.1 173.29,509.7 167.19,513.22" fill="#c3c2be" stroke="#c3c2be" stroke-linejoin="round" stroke-width="1.6"/>
<polygon points="167.19,503.58 173.29,507.1 167.19,510.62 161.1,507.1" fill="#dddcd7" stroke="#dddcd7" stroke-linejoin="round" stroke-width="1.6"/>
<polygon points="174.95,507.1 181.04,510.62 181.04,513.22 174.95,509.7" fill="#adaca8" stroke="#adaca8" stroke-linejoin="round" stroke-width="1.6"/>
<polygon points="181.04,510.62 187.13,507.1 187.13,509.7 181.04,513.22" fill="#c3c2be" stroke="#c3c2be" stroke-linejoin="round" stroke-width="1.6"/>
<polygon points="181.04,503.58 187.13,507.1 181.04,510.62 174.95,507.1" fill="#dddcd7" stroke="#dddcd7" stroke-linejoin="round" stroke-width="1.6"/>
<polygon points="188.79,507.1 194.88,510.62 194.88,513.22 188.79,509.7" fill="#151515" stroke="#151515" stroke-linejoin="round" stroke-width="1.6"/>
<polygon points="194.88,510.62 200.97,507.1 200.97,509.7 194.88,513.22" fill="#1d1d1d" stroke="#1d1d1d" stroke-linejoin="round" stroke-width="1.6"/>
<polygon points="194.88,503.58 200.97,507.1 194.88,510.62 188.79,507.1" fill="#2a2a2a" stroke="#2a2a2a" stroke-linejoin="round" stroke-width="1.6"/>
<polygon points="202.63,507.1 208.72,510.62 208.72,513.22 202.63,509.7" fill="#151515" stroke="#151515" stroke-linejoin="round" stroke-width="1.6"/>
<polygon points="208.72,510.62 214.81,507.1 214.81,509.7 208.72,513.22" fill="#1d1d1d" stroke="#1d1d1d" stroke-linejoin="round" stroke-width="1.6"/>
<polygon points="208.72,503.58 214.81,507.1 208.72,510.62 202.63,507.1" fill="#2a2a2a" stroke="#2a2a2a" stroke-linejoin="round" stroke-width="1.6"/>
<polygon points="216.47,507.1 222.56,510.62 222.56,513.22 216.47,509.7" fill="#adaca8" stroke="#adaca8" stroke-linejoin="round" stroke-width="1.6"/>
<polygon points="222.56,510.62 228.65,507.1 228.65,509.7 222.56,513.22" fill="#c3c2be" stroke="#c3c2be" stroke-linejoin="round" stroke-width="1.6"/>
<polygon points="222.56,503.58 228.65,507.1 222.56,510.62 216.47,507.1" fill="#dddcd7" stroke="#dddcd7" stroke-linejoin="round" stroke-width="1.6"/>
<polygon points="168.03,511.1 174.12,514.62 174.12,517.22 168.03,513.7" fill="#adaca8" stroke="#adaca8" stroke-linejoin="round" stroke-width="1.6"/>
<polygon points="174.12,514.62 180.21,511.1 180.21,513.7 174.12,517.22" fill="#c3c2be" stroke="#c3c2be" stroke-linejoin="round" stroke-width="1.6"/>
<polygon points="174.12,507.58 180.21,511.1 174.12,514.62 168.03,511.1" fill="#dddcd7" stroke="#dddcd7" stroke-linejoin="round" stroke-width="1.6"/>
<polygon points="181.87,511.1 187.96,514.62 187.96,517.22 181.87,513.7" fill="#adaca8" stroke="#adaca8" stroke-linejoin="round" stroke-width="1.6"/>
<polygon points="187.96,514.62 194.05,511.1 194.05,513.7 187.96,517.22" fill="#c3c2be" stroke="#c3c2be" stroke-linejoin="round" stroke-width="1.6"/>
<polygon points="187.96,507.58 194.05,511.1 187.96,514.62 181.87,511.1" fill="#dddcd7" stroke="#dddcd7" stroke-linejoin="round" stroke-width="1.6"/>
<polygon points="195.71,511.1 201.8,514.62 201.8,517.22 195.71,513.7" fill="#adaca8" stroke="#adaca8" stroke-linejoin="round" stroke-width="1.6"/>
<polygon points="201.8,514.62 207.89,511.1 207.89,513.7 201.8,517.22" fill="#c3c2be" stroke="#c3c2be" stroke-linejoin="round" stroke-width="1.6"/>
<polygon points="201.8,507.58 207.89,511.1 201.8,514.62 195.71,511.1" fill="#dddcd7" stroke="#dddcd7" stroke-linejoin="round" stroke-width="1.6"/>
<polygon points="209.55,511.1 215.64,514.62 215.64,517.22 209.55,513.7" fill="#151515" stroke="#151515" stroke-linejoin="round" stroke-width="1.6"/>
<polygon points="215.64,514.62 221.73,511.1 221.73,513.7 215.64,517.22" fill="#1d1d1d" stroke="#1d1d1d" stroke-linejoin="round" stroke-width="1.6"/>
<polygon points="215.64,507.58 221.73,511.1 215.64,514.62 209.55,511.1" fill="#2a2a2a" stroke="#2a2a2a" stroke-linejoin="round" stroke-width="1.6"/>
<polygon points="174.95,515.1 181.04,518.62 181.04,521.22 174.95,517.7" fill="#adaca8" stroke="#adaca8" stroke-linejoin="round" stroke-width="1.6"/>
<polygon points="181.04,518.62 187.13,515.1 187.13,517.7 181.04,521.22" fill="#c3c2be" stroke="#c3c2be" stroke-linejoin="round" stroke-width="1.6"/>
<polygon points="181.04,511.58 187.13,515.1 181.04,518.62 174.95,515.1" fill="#dddcd7" stroke="#dddcd7" stroke-linejoin="round" stroke-width="1.6"/>
<polygon points="188.79,515.1 194.88,518.62 194.88,521.22 188.79,517.7" fill="#adaca8" stroke="#adaca8" stroke-linejoin="round" stroke-width="1.6"/>
<polygon points="194.88,518.62 200.97,515.1 200.97,517.7 194.88,521.22" fill="#c3c2be" stroke="#c3c2be" stroke-linejoin="round" stroke-width="1.6"/>
<polygon points="194.88,511.58 200.97,515.1 194.88,518.62 188.79,515.1" fill="#dddcd7" stroke="#dddcd7" stroke-linejoin="round" stroke-width="1.6"/>
<polygon points="202.63,515.1 208.72,518.62 208.72,521.22 202.63,517.7" fill="#151515" stroke="#151515" stroke-linejoin="round" stroke-width="1.6"/>
<polygon points="208.72,518.62 214.81,515.1 214.81,517.7 208.72,521.22" fill="#1d1d1d" stroke="#1d1d1d" stroke-linejoin="round" stroke-width="1.6"/>
<polygon points="208.72,511.58 214.81,515.1 208.72,518.62 202.63,515.1" fill="#2a2a2a" stroke="#2a2a2a" stroke-linejoin="round" stroke-width="1.6"/>
<polygon points="195.71,519.1 201.8,522.62 201.8,525.22 195.71,521.7" fill="#151515" stroke="#151515" stroke-linejoin="round" stroke-width="1.6"/>
<polygon points="201.8,522.62 207.89,519.1 207.89,521.7 201.8,525.22" fill="#1d1d1d" stroke="#1d1d1d" stroke-linejoin="round" stroke-width="1.6"/>
<polygon points="201.8,515.58 207.89,519.1 201.8,522.62 195.71,519.1" fill="#2a2a2a" stroke="#2a2a2a" stroke-linejoin="round" stroke-width="1.6"/>
<defs><linearGradient id="blp" x1="0" y1="528" x2="0" y2="372" gradientUnits="userSpaceOnUse"><stop offset="0.000" stop-color="#f0509c" stop-opacity="0.7"/><stop offset="0.147" stop-color="#ec539d" stop-opacity="0.72"/><stop offset="0.263" stop-color="#e658a2" stop-opacity="0.68"/><stop offset="0.372" stop-color="#de5ea6" stop-opacity="0.57"/><stop offset="0.500" stop-color="#d266ac" stop-opacity="0.42"/><stop offset="0.692" stop-color="#c874b6" stop-opacity="0.3"/><stop offset="0.872" stop-color="#cc86c0" stop-opacity="0.28"/><stop offset="0.910" stop-color="#e29ccb" stop-opacity="0.48"/><stop offset="1.000" stop-color="#e6a6cf" stop-opacity="0.45"/></linearGradient><linearGradient id="brp" x1="0" y1="528" x2="0" y2="372" gradientUnits="userSpaceOnUse"><stop offset="0.000" stop-color="#c45cae" stop-opacity="0.62"/><stop offset="0.147" stop-color="#b868b8" stop-opacity="0.52"/><stop offset="0.372" stop-color="#a074c2" stop-opacity="0.36"/><stop offset="0.564" stop-color="#9a80c6" stop-opacity="0.26"/><stop offset="0.872" stop-color="#a890cc" stop-opacity="0.22"/><stop offset="0.910" stop-color="#d6a4d2" stop-opacity="0.42"/><stop offset="1.000" stop-color="#dcb0d6" stop-opacity="0.4"/></linearGradient></defs>
<polygon points="180.8,514.5 202.4,528.7 202.4,378.5 195.8,375" fill="url(#blp)" />
<polygon points="202.4,528.7 223,516 209,375 202.4,378.5" fill="url(#brp)" />
<line x1="202.4" y1="528.7" x2="202.4" y2="378.5" stroke="#e8408f" stroke-width="0.8" stroke-opacity="0.35"/>
<polygon points="181.04,329 201.8,341 201.8,271.63 194.88,267.61" fill="rgba(202,176,214,0.62)" />
<polygon points="201.8,341 222.56,329 208.72,267.61 201.8,271.63" fill="rgba(192,174,216,0.58)" />
<line x1="201.8" y1="341" x2="201.8" y2="271.63" stroke="#d99ac8" stroke-width="0.7" stroke-opacity="0.7"/>
<polygon points="70.3,227.4 201.8,303.8 201.8,307.8 70.3,231.4" fill="#c6dea6" />
<polygon points="201.8,303.8 333.3,227.4 333.3,231.4 201.8,307.8" fill="#d6e8bc" />
<polygon points="201.8,151 333.3,227.4 201.8,303.8 70.3,227.4" fill="#e6f1d6" />
<path d="M208.72 155.02L77.22 231.42M215.64 159.04L84.14 235.44M222.56 163.06L91.06 239.46M229.48 167.08L97.98 243.48M236.41 171.11L104.91 247.51M243.33 175.13L111.83 251.53M250.25 179.15L118.75 255.55M257.17 183.17L125.67 259.57M264.09 187.19L132.59 263.59M271.01 191.21L139.51 267.61M277.93 195.23L146.43 271.63M284.85 199.25L153.35 275.65M291.77 203.27L160.27 279.67M298.69 207.29L167.19 283.69M305.62 211.32L174.12 287.72M312.54 215.34L181.04 291.74M319.46 219.36L187.96 295.76M326.38 223.38L194.88 299.78" stroke="#cfe3b2" stroke-width="0.9" stroke-opacity="0.7" fill="none"/>
<path d="M194.88 155.02L326.38 231.42M187.96 159.04L319.46 235.44M181.04 163.06L312.54 239.46M174.12 167.08L305.62 243.48M167.19 171.11L298.69 247.51M160.27 175.13L291.77 251.53M153.35 179.15L284.85 255.55M146.43 183.17L277.93 259.57M139.51 187.19L271.01 263.59M132.59 191.21L264.09 267.61M125.67 195.23L257.17 271.63M118.75 199.25L250.25 275.65M111.83 203.27L243.33 279.67M104.91 207.29L236.41 283.69M97.98 211.32L229.48 287.72M91.06 215.34L222.56 291.74M84.14 219.36L215.64 295.76M77.22 223.38L208.72 299.78" stroke="#cfe3b2" stroke-width="0.9" stroke-opacity="0.7" fill="none"/>
<path d="M205.26 153.01L73.76 229.41M288.31 201.26L156.81 277.66" stroke="#d2e5b6" stroke-width="0.9" stroke-opacity="0.33" fill="none"/>
<path d="M208.72 155.02L77.22 231.42" stroke="#d2e5b6" stroke-width="0.9" stroke-opacity="0.47" fill="none"/>
<path d="M212.18 157.03L80.68 233.43M281.39 197.24L149.89 273.64" stroke="#d2e5b6" stroke-width="0.9" stroke-opacity="0.37" fill="none"/>
<path d="M215.64 159.04L84.14 235.44M222.56 163.06L91.06 239.46" stroke="#d2e5b6" stroke-width="0.9" stroke-opacity="0.53" fill="none"/>
<path d="M219.1 161.05L87.6 237.45" stroke="#d2e5b6" stroke-width="0.9" stroke-opacity="0.35" fill="none"/>
<path d="M226.02 165.07L94.52 241.47M260.63 185.18L129.13 261.58M295.23 205.28L163.73 281.68" stroke="#d2e5b6" stroke-width="0.9" stroke-opacity="0.19" fill="none"/>
<path d="M229.48 167.08L97.98 243.48M239.87 173.12L108.37 249.52" stroke="#d2e5b6" stroke-width="0.9" stroke-opacity="0.39" fill="none"/>
<path d="M232.94 169.09L101.44 245.49" stroke="#d2e5b6" stroke-width="0.9" stroke-opacity="0.4" fill="none"/>
<path d="M236.41 171.11L104.91 247.51" stroke="#d2e5b6" stroke-width="0.9" stroke-opacity="0.44" fill="none"/>
<path d="M243.33 175.13L111.83 251.53" stroke="#d2e5b6" stroke-width="0.9" stroke-opacity="0.28" fill="none"/>
<path d="M246.79 177.14L115.29 253.54M284.85 199.25L153.35 275.65M291.77 203.27L160.27 279.67" stroke="#d2e5b6" stroke-width="0.9" stroke-opacity="0.29" fill="none"/>
<path d="M250.25 179.15L118.75 255.55" stroke="#d2e5b6" stroke-width="0.9" stroke-opacity="0.32" fill="none"/>
<path d="M253.71 181.16L122.21 257.56M264.09 187.19L132.59 263.59M305.62 211.32L174.12 287.72M322.92 221.37L191.42 297.77" stroke="#d2e5b6" stroke-width="0.9" stroke-opacity="0.31" fill="none"/>
<path d="M257.17 183.17L125.67 259.57" stroke="#d2e5b6" stroke-width="0.9" stroke-opacity="0.42" fill="none"/>
<path d="M267.55 189.2L136.05 265.6M316 217.35L184.5 293.75" stroke="#d2e5b6" stroke-width="0.9" stroke-opacity="0.25" fill="none"/>
<path d="M271.01 191.21L139.51 267.61" stroke="#d2e5b6" stroke-width="0.9" stroke-opacity="0.52" fill="none"/>
<path d="M274.47 193.22L142.97 269.62" stroke="#d2e5b6" stroke-width="0.9" stroke-opacity="0.36" fill="none"/>
<path d="M277.93 195.23L146.43 271.63" stroke="#d2e5b6" stroke-width="0.9" stroke-opacity="0.3" fill="none"/>
<path d="M298.69 207.29L167.19 283.69M312.54 215.34L181.04 291.74" stroke="#d2e5b6" stroke-width="0.9" stroke-opacity="0.51" fill="none"/>
<path d="M302.16 209.31L170.66 285.71M329.84 225.39L198.34 301.79" stroke="#d2e5b6" stroke-width="0.9" stroke-opacity="0.23" fill="none"/>
<path d="M309.08 213.33L177.58 289.73" stroke="#d2e5b6" stroke-width="0.9" stroke-opacity="0.41" fill="none"/>
<path d="M319.46 219.36L187.96 295.76" stroke="#d2e5b6" stroke-width="0.9" stroke-opacity="0.54" fill="none"/>
<path d="M326.38 223.38L194.88 299.78" stroke="#d2e5b6" stroke-width="0.9" stroke-opacity="0.45" fill="none"/>
<path d="M198.34 153.01L329.84 229.41M191.42 157.03L322.92 233.43M87.6 217.35L219.1 293.75M73.76 225.39L205.26 301.79" stroke="#d2e5b6" stroke-width="0.9" stroke-opacity="0.4" fill="none"/>
<path d="M194.88 155.02L326.38 231.42M132.59 191.21L264.09 267.61" stroke="#d2e5b6" stroke-width="0.9" stroke-opacity="0.46" fill="none"/>
<path d="M187.96 159.04L319.46 235.44" stroke="#d2e5b6" stroke-width="0.9" stroke-opacity="0.52" fill="none"/>
<path d="M184.5 161.05L316 237.45M160.27 175.13L291.77 251.53M111.83 203.27L243.33 279.67M97.98 211.32L229.48 287.72" stroke="#d2e5b6" stroke-width="0.9" stroke-opacity="0.25" fill="none"/>
<path d="M181.04 163.06L312.54 239.46M108.37 205.28L239.87 281.68M104.91 207.29L236.41 283.69M80.68 221.37L212.18 297.77" stroke="#d2e5b6" stroke-width="0.9" stroke-opacity="0.36" fill="none"/>
<path d="M177.58 165.07L309.08 241.47" stroke="#d2e5b6" stroke-width="0.9" stroke-opacity="0.22" fill="none"/>
<path d="M174.12 167.08L305.62 243.48M142.97 185.18L274.47 261.58M136.05 189.2L267.55 265.6" stroke="#d2e5b6" stroke-width="0.9" stroke-opacity="0.29" fill="none"/>
<path d="M170.66 169.09L302.16 245.49M129.13 193.22L260.63 269.62M94.52 213.33L226.02 289.73" stroke="#d2e5b6" stroke-width="0.9" stroke-opacity="0.2" fill="none"/>
<path d="M167.19 171.11L298.69 247.51M156.81 177.14L288.31 253.54M139.51 187.19L271.01 263.59" stroke="#d2e5b6" stroke-width="0.9" stroke-opacity="0.34" fill="none"/>
<path d="M163.73 173.12L295.23 249.52M101.44 209.31L232.94 285.71" stroke="#d2e5b6" stroke-width="0.9" stroke-opacity="0.32" fill="none"/>
<path d="M153.35 179.15L284.85 255.55" stroke="#d2e5b6" stroke-width="0.9" stroke-opacity="0.35" fill="none"/>
<path d="M149.89 181.16L281.39 257.56" stroke="#d2e5b6" stroke-width="0.9" stroke-opacity="0.26" fill="none"/>
<path d="M146.43 183.17L277.93 259.57" stroke="#d2e5b6" stroke-width="0.9" stroke-opacity="0.5" fill="none"/>
<path d="M125.67 195.23L257.17 271.63" stroke="#d2e5b6" stroke-width="0.9" stroke-opacity="0.54" fill="none"/>
<path d="M122.21 197.24L253.71 273.64" stroke="#d2e5b6" stroke-width="0.9" stroke-opacity="0.19" fill="none"/>
<path d="M118.75 199.25L250.25 275.65" stroke="#d2e5b6" stroke-width="0.9" stroke-opacity="0.47" fill="none"/>
<path d="M115.29 201.26L246.79 277.66" stroke="#d2e5b6" stroke-width="0.9" stroke-opacity="0.38" fill="none"/>
<path d="M91.06 215.34L222.56 291.74" stroke="#d2e5b6" stroke-width="0.9" stroke-opacity="0.3" fill="none"/>
<path d="M84.14 219.36L215.64 295.76" stroke="#d2e5b6" stroke-width="0.9" stroke-opacity="0.31" fill="none"/>
<path d="M77.22 223.38L208.72 299.78" stroke="#d2e5b6" stroke-width="0.9" stroke-opacity="0.53" fill="none"/>
<polygon points="264.5,211.36 271.01,215.14 271.01,223.14 264.5,219.36" fill="#6ca24b" />
<polygon points="271.01,215.14 277.52,211.36 277.52,219.36 271.01,223.14" fill="#7db356" />
<polygon points="271.01,207.58 277.52,211.36 271.01,215.14 264.5,211.36" fill="#8cc062" />
<polygon points="278.35,217.36 284.85,221.14 284.85,223.14 278.35,219.36" fill="#a5c884" />
<polygon points="284.85,221.14 291.36,217.36 291.36,219.36 284.85,223.14" fill="#afd08d" />
<polygon points="284.85,213.58 291.36,217.36 284.85,221.14 278.35,217.36" fill="#b9d796" />
<polygon points="271.43,206.58 277.93,210.36 277.93,227.16 271.43,223.38" fill="#1d5a2c" />
<polygon points="277.93,210.36 284.44,206.58 284.44,223.38 277.93,227.16" fill="#2a6a33" />
<polygon points="277.93,202.8 284.44,206.58 277.93,210.36 271.43,206.58" fill="#2c6f37" />
<polygon points="222.98,241.53 229.48,245.31 229.48,255.31 222.98,251.53" fill="#6ca24b" />
<polygon points="229.48,245.31 235.99,241.53 235.99,251.53 229.48,255.31" fill="#7db356" />
<polygon points="229.48,237.75 235.99,241.53 229.48,245.31 222.98,241.53" fill="#8cc062" />
<polygon points="229.9,253.55 236.41,257.33 236.41,259.33 229.9,255.55" fill="#a5c884" />
<polygon points="236.41,257.33 242.91,253.55 242.91,255.55 236.41,259.33" fill="#afd08d" />
<polygon points="236.41,249.77 242.91,253.55 236.41,257.33 229.9,253.55" fill="#b9d796" />
<polygon points="222.98,253.57 229.48,257.35 229.48,263.35 222.98,259.57" fill="#6ca24b" />
<polygon points="229.48,257.35 235.99,253.57 235.99,259.57 229.48,263.35" fill="#7db356" />
<polygon points="229.48,249.79 235.99,253.57 229.48,257.35 222.98,253.57" fill="#8cc062" />
<polygon points="160.69,220.59 167.19,224.37 167.19,267.37 160.69,263.59" fill="#1d5a2c" />
<polygon points="167.19,224.37 173.7,220.59 173.7,263.59 167.19,267.37" fill="#2a6a33" />
<polygon points="167.19,216.81 173.7,220.59 167.19,224.37 160.69,220.59" fill="#2c6f37" />
<polygon points="174.53,247.59 181.04,251.37 181.04,267.37 174.53,263.59" fill="#3f8836" />
<polygon points="181.04,251.37 187.54,247.59 187.54,263.59 181.04,267.37" fill="#4d963f" />
<polygon points="181.04,243.81 187.54,247.59 181.04,251.37 174.53,247.59" fill="#5aa048" />
<polygon points="202.22,257.67 208.72,261.45 208.72,283.45 202.22,279.67" fill="#6ca24b" />
<polygon points="208.72,261.45 215.23,257.67 215.23,279.67 208.72,283.45" fill="#7db356" />
<polygon points="208.72,253.89 215.23,257.67 208.72,261.45 202.22,257.67" fill="#8cc062" />
<polygon points="202.22,269.12 208.72,272.9 208.72,291.5 202.22,287.72" fill="#1d5a2c" />
<polygon points="208.72,272.9 215.23,269.12 215.23,287.72 208.72,291.5" fill="#2a6a33" />
<polygon points="208.72,265.34 215.23,269.12 208.72,272.9 202.22,269.12" fill="#2c6f37" />
<circle cx="201.8" cy="328.2" r="6.5" fill="#3b3b3d"/>
<circle cx="201.8" cy="348.4" r="6.5" fill="#3b3b3d"/>
<circle cx="201.8" cy="368.5" r="6.5" fill="#3b3b3d"/>
<defs><clipPath id="cbv"><polygon points="514.4,389.7 645.6,465.7 514.4,541.7 383.2,465.7"/></clipPath></defs>
<g style="mix-blend-mode:multiply">
<polygon points="383.2,406.4 514.4,482.4 514.4,486.2 383.2,410.2" fill="#d3e4ec" />
<polygon points="514.4,482.4 645.6,406.4 645.6,410.2 514.4,486.2" fill="#e0edf2" />
<polygon points="514.4,330.4 645.6,406.4 514.4,482.4 383.2,406.4" fill="#cbe0eb" />
</g>
<path d="M521.31 334.4L390.11 410.4" stroke="#ffffff" stroke-width="0.9" stroke-opacity="0.23" fill="none"/>
<path d="M528.21 338.4L397.01 414.4" stroke="#ffffff" stroke-width="0.9" stroke-opacity="0.21" fill="none"/>
<path d="M535.12 342.4L403.92 418.4" stroke="#ffffff" stroke-width="0.9" stroke-opacity="0.2" fill="none"/>
<path d="M542.02 346.4L410.82 422.4" stroke="#ffffff" stroke-width="0.9" stroke-opacity="0.19" fill="none"/>
<path d="M548.93 350.4L417.73 426.4" stroke="#ffffff" stroke-width="0.9" stroke-opacity="0.17" fill="none"/>
<path d="M555.83 354.4L424.63 430.4" stroke="#ffffff" stroke-width="0.9" stroke-opacity="0.16" fill="none"/>
<path d="M562.74 358.4L431.54 434.4" stroke="#ffffff" stroke-width="0.9" stroke-opacity="0.14" fill="none"/>
<path d="M569.64 362.4L438.44 438.4" stroke="#ffffff" stroke-width="0.9" stroke-opacity="0.13" fill="none"/>
<path d="M576.55 366.4L445.35 442.4" stroke="#ffffff" stroke-width="0.9" stroke-opacity="0.12" fill="none"/>
<path d="M583.45 370.4L452.25 446.4" stroke="#ffffff" stroke-width="0.9" stroke-opacity="0.1" fill="none"/>
<path d="M590.36 374.4L459.16 450.4" stroke="#ffffff" stroke-width="0.9" stroke-opacity="0.09" fill="none"/>
<path d="M597.26 378.4L466.06 454.4" stroke="#ffffff" stroke-width="0.9" stroke-opacity="0.08" fill="none"/>
<path d="M604.17 382.4L472.97 458.4" stroke="#ffffff" stroke-width="0.9" stroke-opacity="0.06" fill="none"/>
<path d="M611.07 386.4L479.87 462.4M617.98 390.4L486.78 466.4M624.88 394.4L493.68 470.4M631.79 398.4L500.59 474.4M638.69 402.4L507.49 478.4" stroke="#ffffff" stroke-width="0.9" stroke-opacity="0.05" fill="none"/>
<path d="M507.49 334.4L638.69 410.4" stroke="#ffffff" stroke-width="0.9" stroke-opacity="0.23" fill="none"/>
<path d="M500.59 338.4L631.79 414.4" stroke="#ffffff" stroke-width="0.9" stroke-opacity="0.21" fill="none"/>
<path d="M493.68 342.4L624.88 418.4" stroke="#ffffff" stroke-width="0.9" stroke-opacity="0.2" fill="none"/>
<path d="M486.78 346.4L617.98 422.4" stroke="#ffffff" stroke-width="0.9" stroke-opacity="0.19" fill="none"/>
<path d="M479.87 350.4L611.07 426.4" stroke="#ffffff" stroke-width="0.9" stroke-opacity="0.17" fill="none"/>
<path d="M472.97 354.4L604.17 430.4" stroke="#ffffff" stroke-width="0.9" stroke-opacity="0.16" fill="none"/>
<path d="M466.06 358.4L597.26 434.4" stroke="#ffffff" stroke-width="0.9" stroke-opacity="0.14" fill="none"/>
<path d="M459.16 362.4L590.36 438.4" stroke="#ffffff" stroke-width="0.9" stroke-opacity="0.13" fill="none"/>
<path d="M452.25 366.4L583.45 442.4" stroke="#ffffff" stroke-width="0.9" stroke-opacity="0.12" fill="none"/>
<path d="M445.35 370.4L576.55 446.4" stroke="#ffffff" stroke-width="0.9" stroke-opacity="0.1" fill="none"/>
<path d="M438.44 374.4L569.64 450.4" stroke="#ffffff" stroke-width="0.9" stroke-opacity="0.09" fill="none"/>
<path d="M431.54 378.4L562.74 454.4" stroke="#ffffff" stroke-width="0.9" stroke-opacity="0.08" fill="none"/>
<path d="M424.63 382.4L555.83 458.4" stroke="#ffffff" stroke-width="0.9" stroke-opacity="0.06" fill="none"/>
<path d="M417.73 386.4L548.93 462.4M410.82 390.4L542.02 466.4M403.92 394.4L535.12 470.4M397.01 398.4L528.21 474.4M390.11 402.4L521.31 478.4" stroke="#ffffff" stroke-width="0.9" stroke-opacity="0.05" fill="none"/>
<path d="M517.85 332.4L386.65 408.4" stroke="#ffffff" stroke-width="1.2" stroke-opacity="0.15" fill="none"/>
<path d="M521.31 334.4L390.11 410.4" stroke="#ffffff" stroke-width="1.2" stroke-opacity="0.2" fill="none"/>
<path d="M524.76 336.4L393.56 412.4M566.19 360.4L434.99 436.4" stroke="#ffffff" stroke-width="1.2" stroke-opacity="0.25" fill="none"/>
<path d="M528.21 338.4L397.01 414.4M555.83 354.4L424.63 430.4" stroke="#ffffff" stroke-width="1.2" stroke-opacity="0.55" fill="none"/>
<path d="M531.66 340.4L400.46 416.4" stroke="#ffffff" stroke-width="1.2" stroke-opacity="0.4" fill="none"/>
<path d="M535.12 342.4L403.92 418.4" stroke="#ffffff" stroke-width="1.2" stroke-opacity="0.64" fill="none"/>
<path d="M538.57 344.4L407.37 420.4" stroke="#ffffff" stroke-width="1.2" stroke-opacity="0.3" fill="none"/>
<path d="M542.02 346.4L410.82 422.4" stroke="#ffffff" stroke-width="1.2" stroke-opacity="0.39" fill="none"/>
<path d="M545.47 348.4L414.27 424.4" stroke="#ffffff" stroke-width="1.2" stroke-opacity="0.42" fill="none"/>
<path d="M548.93 350.4L417.73 426.4" stroke="#ffffff" stroke-width="1.2" stroke-opacity="0.54" fill="none"/>
<path d="M552.38 352.4L421.18 428.4" stroke="#ffffff" stroke-width="1.2" stroke-opacity="0.31" fill="none"/>
<path d="M559.28 356.4L428.08 432.4" stroke="#ffffff" stroke-width="1.2" stroke-opacity="0.33" fill="none"/>
<path d="M562.74 358.4L431.54 434.4" stroke="#ffffff" stroke-width="1.2" stroke-opacity="0.58" fill="none"/>
<path d="M569.64 362.4L438.44 438.4" stroke="#ffffff" stroke-width="1.2" stroke-opacity="0.38" fill="none"/>
<path d="M573.09 364.4L441.89 440.4" stroke="#ffffff" stroke-width="1.2" stroke-opacity="0.47" fill="none"/>
<path d="M576.55 366.4L445.35 442.4M583.45 370.4L452.25 446.4" stroke="#ffffff" stroke-width="1.2" stroke-opacity="0.14" fill="none"/>
<path d="M580 368.4L448.8 444.4M586.91 372.4L455.71 448.4" stroke="#ffffff" stroke-width="1.2" stroke-opacity="0.08" fill="none"/>
<path d="M590.36 374.4L459.16 450.4" stroke="#ffffff" stroke-width="1.2" stroke-opacity="0.06" fill="none"/>
<path d="M593.81 376.4L462.61 452.4M597.26 378.4L466.06 454.4" stroke="#ffffff" stroke-width="1.2" stroke-opacity="0.04" fill="none"/>
<path d="M600.72 380.4L469.52 456.4" stroke="#ffffff" stroke-width="1.2" stroke-opacity="0.01" fill="none"/>
<path d="M510.95 332.4L642.15 408.4" stroke="#ffffff" stroke-width="1.2" stroke-opacity="0.15" fill="none"/>
<path d="M507.49 334.4L638.69 410.4" stroke="#ffffff" stroke-width="1.2" stroke-opacity="0.2" fill="none"/>
<path d="M504.04 336.4L635.24 412.4M490.23 344.4L621.43 420.4M462.61 360.4L593.81 436.4M455.71 364.4L586.91 440.4" stroke="#ffffff" stroke-width="1.2" stroke-opacity="0.25" fill="none"/>
<path d="M500.59 338.4L631.79 414.4" stroke="#ffffff" stroke-width="1.2" stroke-opacity="0.51" fill="none"/>
<path d="M497.14 340.4L628.34 416.4" stroke="#ffffff" stroke-width="1.2" stroke-opacity="0.4" fill="none"/>
<path d="M493.68 342.4L624.88 418.4M483.33 348.4L614.53 424.4" stroke="#ffffff" stroke-width="1.2" stroke-opacity="0.36" fill="none"/>
<path d="M486.78 346.4L617.98 422.4" stroke="#ffffff" stroke-width="1.2" stroke-opacity="0.61" fill="none"/>
<path d="M479.87 350.4L611.07 426.4" stroke="#ffffff" stroke-width="1.2" stroke-opacity="0.37" fill="none"/>
<path d="M476.42 352.4L607.62 428.4" stroke="#ffffff" stroke-width="1.2" stroke-opacity="0.35" fill="none"/>
<path d="M472.97 354.4L604.17 430.4" stroke="#ffffff" stroke-width="1.2" stroke-opacity="0.38" fill="none"/>
<path d="M469.52 356.4L600.72 432.4" stroke="#ffffff" stroke-width="1.2" stroke-opacity="0.44" fill="none"/>
<path d="M466.06 358.4L597.26 434.4" stroke="#ffffff" stroke-width="1.2" stroke-opacity="0.48" fill="none"/>
<path d="M459.16 362.4L590.36 438.4" stroke="#ffffff" stroke-width="1.2" stroke-opacity="0.59" fill="none"/>
<path d="M452.25 366.4L583.45 442.4M445.35 370.4L576.55 446.4" stroke="#ffffff" stroke-width="1.2" stroke-opacity="0.13" fill="none"/>
<path d="M448.8 368.4L580 444.4" stroke="#ffffff" stroke-width="1.2" stroke-opacity="0.07" fill="none"/>
<path d="M441.89 372.4L573.09 448.4" stroke="#ffffff" stroke-width="1.2" stroke-opacity="0.05" fill="none"/>
<path d="M438.44 374.4L569.64 450.4" stroke="#ffffff" stroke-width="1.2" stroke-opacity="0.08" fill="none"/>
<path d="M434.99 376.4L566.19 452.4M431.54 378.4L562.74 454.4" stroke="#ffffff" stroke-width="1.2" stroke-opacity="0.03" fill="none"/>
<path d="M428.08 380.4L559.28 456.4" stroke="#ffffff" stroke-width="1.2" stroke-opacity="0.01" fill="none"/>
<g style="mix-blend-mode:multiply">
<polygon points="383.2,346.7 514.4,422.7 514.4,426.5 383.2,350.5" fill="#d3e4ec" />
<polygon points="514.4,422.7 645.6,346.7 645.6,350.5 514.4,426.5" fill="#e0edf2" />
<polygon points="514.4,270.7 645.6,346.7 514.4,422.7 383.2,346.7" fill="#cbe0eb" />
</g>
<path d="M521.31 274.7L390.11 350.7" stroke="#ffffff" stroke-width="0.9" stroke-opacity="0.23" fill="none"/>
<path d="M528.21 278.7L397.01 354.7" stroke="#ffffff" stroke-width="0.9" stroke-opacity="0.21" fill="none"/>
<path d="M535.12 282.7L403.92 358.7" stroke="#ffffff" stroke-width="0.9" stroke-opacity="0.2" fill="none"/>
<path d="M542.02 286.7L410.82 362.7" stroke="#ffffff" stroke-width="0.9" stroke-opacity="0.19" fill="none"/>
<path d="M548.93 290.7L417.73 366.7" stroke="#ffffff" stroke-width="0.9" stroke-opacity="0.17" fill="none"/>
<path d="M555.83 294.7L424.63 370.7" stroke="#ffffff" stroke-width="0.9" stroke-opacity="0.16" fill="none"/>
<path d="M562.74 298.7L431.54 374.7" stroke="#ffffff" stroke-width="0.9" stroke-opacity="0.14" fill="none"/>
<path d="M569.64 302.7L438.44 378.7" stroke="#ffffff" stroke-width="0.9" stroke-opacity="0.13" fill="none"/>
<path d="M576.55 306.7L445.35 382.7" stroke="#ffffff" stroke-width="0.9" stroke-opacity="0.12" fill="none"/>
<path d="M583.45 310.7L452.25 386.7" stroke="#ffffff" stroke-width="0.9" stroke-opacity="0.1" fill="none"/>
<path d="M590.36 314.7L459.16 390.7" stroke="#ffffff" stroke-width="0.9" stroke-opacity="0.09" fill="none"/>
<path d="M597.26 318.7L466.06 394.7" stroke="#ffffff" stroke-width="0.9" stroke-opacity="0.08" fill="none"/>
<path d="M604.17 322.7L472.97 398.7" stroke="#ffffff" stroke-width="0.9" stroke-opacity="0.06" fill="none"/>
<path d="M611.07 326.7L479.87 402.7M617.98 330.7L486.78 406.7M624.88 334.7L493.68 410.7M631.79 338.7L500.59 414.7M638.69 342.7L507.49 418.7" stroke="#ffffff" stroke-width="0.9" stroke-opacity="0.05" fill="none"/>
<path d="M507.49 274.7L638.69 350.7" stroke="#ffffff" stroke-width="0.9" stroke-opacity="0.23" fill="none"/>
<path d="M500.59 278.7L631.79 354.7" stroke="#ffffff" stroke-width="0.9" stroke-opacity="0.21" fill="none"/>
<path d="M493.68 282.7L624.88 358.7" stroke="#ffffff" stroke-width="0.9" stroke-opacity="0.2" fill="none"/>
<path d="M486.78 286.7L617.98 362.7" stroke="#ffffff" stroke-width="0.9" stroke-opacity="0.19" fill="none"/>
<path d="M479.87 290.7L611.07 366.7" stroke="#ffffff" stroke-width="0.9" stroke-opacity="0.17" fill="none"/>
<path d="M472.97 294.7L604.17 370.7" stroke="#ffffff" stroke-width="0.9" stroke-opacity="0.16" fill="none"/>
<path d="M466.06 298.7L597.26 374.7" stroke="#ffffff" stroke-width="0.9" stroke-opacity="0.14" fill="none"/>
<path d="M459.16 302.7L590.36 378.7" stroke="#ffffff" stroke-width="0.9" stroke-opacity="0.13" fill="none"/>
<path d="M452.25 306.7L583.45 382.7" stroke="#ffffff" stroke-width="0.9" stroke-opacity="0.12" fill="none"/>
<path d="M445.35 310.7L576.55 386.7" stroke="#ffffff" stroke-width="0.9" stroke-opacity="0.1" fill="none"/>
<path d="M438.44 314.7L569.64 390.7" stroke="#ffffff" stroke-width="0.9" stroke-opacity="0.09" fill="none"/>
<path d="M431.54 318.7L562.74 394.7" stroke="#ffffff" stroke-width="0.9" stroke-opacity="0.08" fill="none"/>
<path d="M424.63 322.7L555.83 398.7" stroke="#ffffff" stroke-width="0.9" stroke-opacity="0.06" fill="none"/>
<path d="M417.73 326.7L548.93 402.7M410.82 330.7L542.02 406.7M403.92 334.7L535.12 410.7M397.01 338.7L528.21 414.7M390.11 342.7L521.31 418.7" stroke="#ffffff" stroke-width="0.9" stroke-opacity="0.05" fill="none"/>
<path d="M517.85 272.7L386.65 348.7" stroke="#ffffff" stroke-width="1.2" stroke-opacity="0.15" fill="none"/>
<path d="M521.31 274.7L390.11 350.7" stroke="#ffffff" stroke-width="1.2" stroke-opacity="0.2" fill="none"/>
<path d="M524.76 276.7L393.56 352.7M538.57 284.7L407.37 360.7" stroke="#ffffff" stroke-width="1.2" stroke-opacity="0.49" fill="none"/>
<path d="M528.21 278.7L397.01 354.7M542.02 286.7L410.82 362.7" stroke="#ffffff" stroke-width="1.2" stroke-opacity="0.3" fill="none"/>
<path d="M531.66 280.7L400.46 356.7M562.74 298.7L431.54 374.7M566.19 300.7L434.99 376.7" stroke="#ffffff" stroke-width="1.2" stroke-opacity="0.42" fill="none"/>
<path d="M535.12 282.7L403.92 358.7" stroke="#ffffff" stroke-width="1.2" stroke-opacity="0.35" fill="none"/>
<path d="M545.47 288.7L414.27 364.7M552.38 292.7L421.18 368.7" stroke="#ffffff" stroke-width="1.2" stroke-opacity="0.46" fill="none"/>
<path d="M548.93 290.7L417.73 366.7" stroke="#ffffff" stroke-width="1.2" stroke-opacity="0.54" fill="none"/>
<path d="M555.83 294.7L424.63 370.7" stroke="#ffffff" stroke-width="1.2" stroke-opacity="0.66" fill="none"/>
<path d="M559.28 296.7L428.08 372.7M573.09 304.7L441.89 380.7" stroke="#ffffff" stroke-width="1.2" stroke-opacity="0.29" fill="none"/>
<path d="M569.64 302.7L438.44 378.7" stroke="#ffffff" stroke-width="1.2" stroke-opacity="0.4" fill="none"/>
<path d="M576.55 306.7L445.35 382.7" stroke="#ffffff" stroke-width="1.2" stroke-opacity="0.13" fill="none"/>
<path d="M580 308.7L448.8 384.7" stroke="#ffffff" stroke-width="1.2" stroke-opacity="0.12" fill="none"/>
<path d="M583.45 310.7L452.25 386.7" stroke="#ffffff" stroke-width="1.2" stroke-opacity="0.14" fill="none"/>
<path d="M586.91 312.7L455.71 388.7" stroke="#ffffff" stroke-width="1.2" stroke-opacity="0.08" fill="none"/>
<path d="M590.36 314.7L459.16 390.7" stroke="#ffffff" stroke-width="1.2" stroke-opacity="0.06" fill="none"/>
<path d="M593.81 316.7L462.61 392.7" stroke="#ffffff" stroke-width="1.2" stroke-opacity="0.05" fill="none"/>
<path d="M597.26 318.7L466.06 394.7" stroke="#ffffff" stroke-width="1.2" stroke-opacity="0.03" fill="none"/>
<path d="M600.72 320.7L469.52 396.7" stroke="#ffffff" stroke-width="1.2" stroke-opacity="0.01" fill="none"/>
<path d="M510.95 272.7L642.15 348.7" stroke="#ffffff" stroke-width="1.2" stroke-opacity="0.15" fill="none"/>
<path d="M507.49 274.7L638.69 350.7" stroke="#ffffff" stroke-width="1.2" stroke-opacity="0.2" fill="none"/>
<path d="M504.04 276.7L635.24 352.7M490.23 284.7L621.43 360.7" stroke="#ffffff" stroke-width="1.2" stroke-opacity="0.48" fill="none"/>
<path d="M500.59 278.7L631.79 354.7" stroke="#ffffff" stroke-width="1.2" stroke-opacity="0.3" fill="none"/>
<path d="M497.14 280.7L628.34 356.7" stroke="#ffffff" stroke-width="1.2" stroke-opacity="0.26" fill="none"/>
<path d="M493.68 282.7L624.88 358.7M476.42 292.7L607.62 368.7" stroke="#ffffff" stroke-width="1.2" stroke-opacity="0.36" fill="none"/>
<path d="M486.78 286.7L617.98 362.7" stroke="#ffffff" stroke-width="1.2" stroke-opacity="0.55" fill="none"/>
<path d="M483.33 288.7L614.53 364.7" stroke="#ffffff" stroke-width="1.2" stroke-opacity="0.42" fill="none"/>
<path d="M479.87 290.7L611.07 366.7" stroke="#ffffff" stroke-width="1.2" stroke-opacity="0.4" fill="none"/>
<path d="M472.97 294.7L604.17 370.7" stroke="#ffffff" stroke-width="1.2" stroke-opacity="0.62" fill="none"/>
<path d="M469.52 296.7L600.72 372.7" stroke="#ffffff" stroke-width="1.2" stroke-opacity="0.25" fill="none"/>
<path d="M466.06 298.7L597.26 374.7" stroke="#ffffff" stroke-width="1.2" stroke-opacity="0.34" fill="none"/>
<path d="M462.61 300.7L593.81 376.7" stroke="#ffffff" stroke-width="1.2" stroke-opacity="0.24" fill="none"/>
<path d="M459.16 302.7L590.36 378.7" stroke="#ffffff" stroke-width="1.2" stroke-opacity="0.47" fill="none"/>
<path d="M455.71 304.7L586.91 380.7" stroke="#ffffff" stroke-width="1.2" stroke-opacity="0.45" fill="none"/>
<path d="M452.25 306.7L583.45 382.7" stroke="#ffffff" stroke-width="1.2" stroke-opacity="0.16" fill="none"/>
<path d="M448.8 308.7L580 384.7" stroke="#ffffff" stroke-width="1.2" stroke-opacity="0.09" fill="none"/>
<path d="M445.35 310.7L576.55 386.7" stroke="#ffffff" stroke-width="1.2" stroke-opacity="0.11" fill="none"/>
<path d="M441.89 312.7L573.09 388.7" stroke="#ffffff" stroke-width="1.2" stroke-opacity="0.06" fill="none"/>
<path d="M438.44 314.7L569.64 390.7" stroke="#ffffff" stroke-width="1.2" stroke-opacity="0.1" fill="none"/>
<path d="M434.99 316.7L566.19 392.7" stroke="#ffffff" stroke-width="1.2" stroke-opacity="0.04" fill="none"/>
<path d="M431.54 318.7L562.74 394.7" stroke="#ffffff" stroke-width="1.2" stroke-opacity="0.03" fill="none"/>
<path d="M428.08 320.7L559.28 396.7" stroke="#ffffff" stroke-width="1.2" stroke-opacity="0.01" fill="none"/>
<g style="mix-blend-mode:multiply">
<polygon points="383.2,289 514.4,365 514.4,368.8 383.2,292.8" fill="#d3e4ec" />
<polygon points="514.4,365 645.6,289 645.6,292.8 514.4,368.8" fill="#e0edf2" />
<polygon points="514.4,213 645.6,289 514.4,365 383.2,289" fill="#cbe0eb" />
</g>
<path d="M521.31 217L390.11 293" stroke="#ffffff" stroke-width="0.9" stroke-opacity="0.23" fill="none"/>
<path d="M528.21 221L397.01 297" stroke="#ffffff" stroke-width="0.9" stroke-opacity="0.21" fill="none"/>
<path d="M535.12 225L403.92 301" stroke="#ffffff" stroke-width="0.9" stroke-opacity="0.2" fill="none"/>
<path d="M542.02 229L410.82 305" stroke="#ffffff" stroke-width="0.9" stroke-opacity="0.19" fill="none"/>
<path d="M548.93 233L417.73 309" stroke="#ffffff" stroke-width="0.9" stroke-opacity="0.17" fill="none"/>
<path d="M555.83 237L424.63 313" stroke="#ffffff" stroke-width="0.9" stroke-opacity="0.16" fill="none"/>
<path d="M562.74 241L431.54 317" stroke="#ffffff" stroke-width="0.9" stroke-opacity="0.14" fill="none"/>
<path d="M569.64 245L438.44 321" stroke="#ffffff" stroke-width="0.9" stroke-opacity="0.13" fill="none"/>
<path d="M576.55 249L445.35 325" stroke="#ffffff" stroke-width="0.9" stroke-opacity="0.12" fill="none"/>
<path d="M583.45 253L452.25 329" stroke="#ffffff" stroke-width="0.9" stroke-opacity="0.1" fill="none"/>
<path d="M590.36 257L459.16 333" stroke="#ffffff" stroke-width="0.9" stroke-opacity="0.09" fill="none"/>
<path d="M597.26 261L466.06 337" stroke="#ffffff" stroke-width="0.9" stroke-opacity="0.08" fill="none"/>
<path d="M604.17 265L472.97 341" stroke="#ffffff" stroke-width="0.9" stroke-opacity="0.06" fill="none"/>
<path d="M611.07 269L479.87 345M617.98 273L486.78 349M624.88 277L493.68 353M631.79 281L500.59 357M638.69 285L507.49 361" stroke="#ffffff" stroke-width="0.9" stroke-opacity="0.05" fill="none"/>
<path d="M507.49 217L638.69 293" stroke="#ffffff" stroke-width="0.9" stroke-opacity="0.23" fill="none"/>
<path d="M500.59 221L631.79 297" stroke="#ffffff" stroke-width="0.9" stroke-opacity="0.21" fill="none"/>
<path d="M493.68 225L624.88 301" stroke="#ffffff" stroke-width="0.9" stroke-opacity="0.2" fill="none"/>
<path d="M486.78 229L617.98 305" stroke="#ffffff" stroke-width="0.9" stroke-opacity="0.19" fill="none"/>
<path d="M479.87 233L611.07 309" stroke="#ffffff" stroke-width="0.9" stroke-opacity="0.17" fill="none"/>
<path d="M472.97 237L604.17 313" stroke="#ffffff" stroke-width="0.9" stroke-opacity="0.16" fill="none"/>
<path d="M466.06 241L597.26 317" stroke="#ffffff" stroke-width="0.9" stroke-opacity="0.14" fill="none"/>
<path d="M459.16 245L590.36 321" stroke="#ffffff" stroke-width="0.9" stroke-opacity="0.13" fill="none"/>
<path d="M452.25 249L583.45 325" stroke="#ffffff" stroke-width="0.9" stroke-opacity="0.12" fill="none"/>
<path d="M445.35 253L576.55 329" stroke="#ffffff" stroke-width="0.9" stroke-opacity="0.1" fill="none"/>
<path d="M438.44 257L569.64 333" stroke="#ffffff" stroke-width="0.9" stroke-opacity="0.09" fill="none"/>
<path d="M431.54 261L562.74 337" stroke="#ffffff" stroke-width="0.9" stroke-opacity="0.08" fill="none"/>
<path d="M424.63 265L555.83 341" stroke="#ffffff" stroke-width="0.9" stroke-opacity="0.06" fill="none"/>
<path d="M417.73 269L548.93 345M410.82 273L542.02 349M403.92 277L535.12 353M397.01 281L528.21 357M390.11 285L521.31 361" stroke="#ffffff" stroke-width="0.9" stroke-opacity="0.05" fill="none"/>
<path d="M517.85 215L386.65 291" stroke="#ffffff" stroke-width="1.2" stroke-opacity="0.15" fill="none"/>
<path d="M521.31 217L390.11 293M576.55 249L445.35 325" stroke="#ffffff" stroke-width="1.2" stroke-opacity="0.2" fill="none"/>
<path d="M524.76 219L393.56 295" stroke="#ffffff" stroke-width="1.2" stroke-opacity="0.32" fill="none"/>
<path d="M528.21 221L397.01 297" stroke="#ffffff" stroke-width="1.2" stroke-opacity="0.47" fill="none"/>
<path d="M531.66 223L400.46 299" stroke="#ffffff" stroke-width="1.2" stroke-opacity="0.34" fill="none"/>
<path d="M535.12 225L403.92 301" stroke="#ffffff" stroke-width="1.2" stroke-opacity="0.46" fill="none"/>
<path d="M538.57 227L407.37 303" stroke="#ffffff" stroke-width="1.2" stroke-opacity="0.33" fill="none"/>
<path d="M542.02 229L410.82 305" stroke="#ffffff" stroke-width="1.2" stroke-opacity="0.54" fill="none"/>
<path d="M545.47 231L414.27 307" stroke="#ffffff" stroke-width="1.2" stroke-opacity="0.29" fill="none"/>
<path d="M548.93 233L417.73 309" stroke="#ffffff" stroke-width="1.2" stroke-opacity="0.53" fill="none"/>
<path d="M552.38 235L421.18 311" stroke="#ffffff" stroke-width="1.2" stroke-opacity="0.23" fill="none"/>
<path d="M555.83 237L424.63 313M569.64 245L438.44 321" stroke="#ffffff" stroke-width="1.2" stroke-opacity="0.41" fill="none"/>
<path d="M559.28 239L428.08 315" stroke="#ffffff" stroke-width="1.2" stroke-opacity="0.31" fill="none"/>
<path d="M562.74 241L431.54 317" stroke="#ffffff" stroke-width="1.2" stroke-opacity="0.35" fill="none"/>
<path d="M566.19 243L434.99 319" stroke="#ffffff" stroke-width="1.2" stroke-opacity="0.43" fill="none"/>
<path d="M573.09 247L441.89 323" stroke="#ffffff" stroke-width="1.2" stroke-opacity="0.44" fill="none"/>
<path d="M580 251L448.8 327M590.36 257L459.16 333" stroke="#ffffff" stroke-width="1.2" stroke-opacity="0.08" fill="none"/>
<path d="M583.45 253L452.25 329" stroke="#ffffff" stroke-width="1.2" stroke-opacity="0.14" fill="none"/>
<path d="M586.91 255L455.71 331" stroke="#ffffff" stroke-width="1.2" stroke-opacity="0.09" fill="none"/>
<path d="M593.81 259L462.61 335M597.26 261L466.06 337" stroke="#ffffff" stroke-width="1.2" stroke-opacity="0.03" fill="none"/>
<path d="M600.72 263L469.52 339" stroke="#ffffff" stroke-width="1.2" stroke-opacity="0.01" fill="none"/>
<path d="M510.95 215L642.15 291" stroke="#ffffff" stroke-width="1.2" stroke-opacity="0.15" fill="none"/>
<path d="M507.49 217L638.69 293" stroke="#ffffff" stroke-width="1.2" stroke-opacity="0.2" fill="none"/>
<path d="M504.04 219L635.24 295" stroke="#ffffff" stroke-width="1.2" stroke-opacity="0.45" fill="none"/>
<path d="M500.59 221L631.79 297" stroke="#ffffff" stroke-width="1.2" stroke-opacity="0.58" fill="none"/>
<path d="M497.14 223L628.34 299" stroke="#ffffff" stroke-width="1.2" stroke-opacity="0.37" fill="none"/>
<path d="M493.68 225L624.88 301" stroke="#ffffff" stroke-width="1.2" stroke-opacity="0.38" fill="none"/>
<path d="M490.23 227L621.43 303" stroke="#ffffff" stroke-width="1.2" stroke-opacity="0.26" fill="none"/>
<path d="M486.78 229L617.98 305M476.42 235L607.62 311" stroke="#ffffff" stroke-width="1.2" stroke-opacity="0.41" fill="none"/>
<path d="M483.33 231L614.53 307M455.71 247L586.91 323" stroke="#ffffff" stroke-width="1.2" stroke-opacity="0.35" fill="none"/>
<path d="M479.87 233L611.07 309" stroke="#ffffff" stroke-width="1.2" stroke-opacity="0.32" fill="none"/>
<path d="M472.97 237L604.17 313" stroke="#ffffff" stroke-width="1.2" stroke-opacity="0.56" fill="none"/>
<path d="M469.52 239L600.72 315" stroke="#ffffff" stroke-width="1.2" stroke-opacity="0.23" fill="none"/>
<path d="M466.06 241L597.26 317" stroke="#ffffff" stroke-width="1.2" stroke-opacity="0.6" fill="none"/>
<path d="M462.61 243L593.81 319" stroke="#ffffff" stroke-width="1.2" stroke-opacity="0.36" fill="none"/>
<path d="M459.16 245L590.36 321" stroke="#ffffff" stroke-width="1.2" stroke-opacity="0.63" fill="none"/>
<path d="M452.25 249L583.45 325" stroke="#ffffff" stroke-width="1.2" stroke-opacity="0.18" fill="none"/>
<path d="M448.8 251L580 327" stroke="#ffffff" stroke-width="1.2" stroke-opacity="0.1" fill="none"/>
<path d="M445.35 253L576.55 329" stroke="#ffffff" stroke-width="1.2" stroke-opacity="0.12" fill="none"/>
<path d="M441.89 255L573.09 331" stroke="#ffffff" stroke-width="1.2" stroke-opacity="0.07" fill="none"/>
<path d="M438.44 257L569.64 333" stroke="#ffffff" stroke-width="1.2" stroke-opacity="0.05" fill="none"/>
<path d="M434.99 259L566.19 335M431.54 261L562.74 337" stroke="#ffffff" stroke-width="1.2" stroke-opacity="0.03" fill="none"/>
<path d="M428.08 263L559.28 339" stroke="#ffffff" stroke-width="1.2" stroke-opacity="0.01" fill="none"/>
<polygon points="383.2,465.7 514.4,541.7 514.4,545.5 383.2,469.5" fill="#3f88ac" />
<polygon points="514.4,541.7 645.6,465.7 645.6,469.5 514.4,545.5" fill="#5a9ebd" />
<polygon points="514.4,389.7 645.6,465.7 514.4,541.7 383.2,465.7" fill="#1575a6" />
<path d="M521.31 393.7L390.11 469.7M528.21 397.7L397.01 473.7M535.12 401.7L403.92 477.7M542.02 405.7L410.82 481.7M548.93 409.7L417.73 485.7M555.83 413.7L424.63 489.7M562.74 417.7L431.54 493.7M569.64 421.7L438.44 497.7M576.55 425.7L445.35 501.7M583.45 429.7L452.25 505.7M590.36 433.7L459.16 509.7M597.26 437.7L466.06 513.7M604.17 441.7L472.97 517.7M611.07 445.7L479.87 521.7M617.98 449.7L486.78 525.7M624.88 453.7L493.68 529.7M631.79 457.7L500.59 533.7M638.69 461.7L507.49 537.7" stroke="#8cc6e2" stroke-width="0.8" stroke-opacity="0.3" fill="none"/>
<path d="M507.49 393.7L638.69 469.7M500.59 397.7L631.79 473.7M493.68 401.7L624.88 477.7M486.78 405.7L617.98 481.7M479.87 409.7L611.07 485.7M472.97 413.7L604.17 489.7M466.06 417.7L597.26 493.7M459.16 421.7L590.36 497.7M452.25 425.7L583.45 501.7M445.35 429.7L576.55 505.7M438.44 433.7L569.64 509.7M431.54 437.7L562.74 513.7M424.63 441.7L555.83 517.7M417.73 445.7L548.93 521.7M410.82 449.7L542.02 525.7M403.92 453.7L535.12 529.7M397.01 457.7L528.21 533.7M390.11 461.7L521.31 537.7" stroke="#8cc6e2" stroke-width="0.8" stroke-opacity="0.3" fill="none"/>
<path d="M521.31 334.4L390.11 410.4" stroke="#93d6f0" stroke-width="1.3" stroke-opacity="0.8" fill="none" clip-path="url(#cbv)"/>
<path d="M528.21 338.4L397.01 414.4" stroke="#93d6f0" stroke-width="1.3" stroke-opacity="0.74" fill="none" clip-path="url(#cbv)"/>
<path d="M535.12 342.4L403.92 418.4" stroke="#93d6f0" stroke-width="1.3" stroke-opacity="0.69" fill="none" clip-path="url(#cbv)"/>
<path d="M542.02 346.4L410.82 422.4" stroke="#93d6f0" stroke-width="1.3" stroke-opacity="0.63" fill="none" clip-path="url(#cbv)"/>
<path d="M548.93 350.4L417.73 426.4" stroke="#93d6f0" stroke-width="1.3" stroke-opacity="0.58" fill="none" clip-path="url(#cbv)"/>
<path d="M555.83 354.4L424.63 430.4" stroke="#93d6f0" stroke-width="1.3" stroke-opacity="0.53" fill="none" clip-path="url(#cbv)"/>
<path d="M562.74 358.4L431.54 434.4" stroke="#93d6f0" stroke-width="1.3" stroke-opacity="0.47" fill="none" clip-path="url(#cbv)"/>
<path d="M569.64 362.4L438.44 438.4" stroke="#93d6f0" stroke-width="1.3" stroke-opacity="0.42" fill="none" clip-path="url(#cbv)"/>
<path d="M576.55 366.4L445.35 442.4" stroke="#93d6f0" stroke-width="1.3" stroke-opacity="0.37" fill="none" clip-path="url(#cbv)"/>
<path d="M583.45 370.4L452.25 446.4" stroke="#93d6f0" stroke-width="1.3" stroke-opacity="0.31" fill="none" clip-path="url(#cbv)"/>
<path d="M590.36 374.4L459.16 450.4" stroke="#93d6f0" stroke-width="1.3" stroke-opacity="0.26" fill="none" clip-path="url(#cbv)"/>
<path d="M597.26 378.4L466.06 454.4" stroke="#93d6f0" stroke-width="1.3" stroke-opacity="0.2" fill="none" clip-path="url(#cbv)"/>
<path d="M604.17 382.4L472.97 458.4" stroke="#93d6f0" stroke-width="1.3" stroke-opacity="0.15" fill="none" clip-path="url(#cbv)"/>
<path d="M611.07 386.4L479.87 462.4" stroke="#93d6f0" stroke-width="1.3" stroke-opacity="0.1" fill="none" clip-path="url(#cbv)"/>
<path d="M617.98 390.4L486.78 466.4M624.88 394.4L493.68 470.4M631.79 398.4L500.59 474.4M638.69 402.4L507.49 478.4" stroke="#93d6f0" stroke-width="1.3" stroke-opacity="0.04" fill="none" clip-path="url(#cbv)"/>
<path d="M507.49 334.4L638.69 410.4" stroke="#93d6f0" stroke-width="1.3" stroke-opacity="0.8" fill="none" clip-path="url(#cbv)"/>
<path d="M500.59 338.4L631.79 414.4" stroke="#93d6f0" stroke-width="1.3" stroke-opacity="0.74" fill="none" clip-path="url(#cbv)"/>
<path d="M493.68 342.4L624.88 418.4" stroke="#93d6f0" stroke-width="1.3" stroke-opacity="0.69" fill="none" clip-path="url(#cbv)"/>
<path d="M486.78 346.4L617.98 422.4" stroke="#93d6f0" stroke-width="1.3" stroke-opacity="0.63" fill="none" clip-path="url(#cbv)"/>
<path d="M479.87 350.4L611.07 426.4" stroke="#93d6f0" stroke-width="1.3" stroke-opacity="0.58" fill="none" clip-path="url(#cbv)"/>
<path d="M472.97 354.4L604.17 430.4" stroke="#93d6f0" stroke-width="1.3" stroke-opacity="0.53" fill="none" clip-path="url(#cbv)"/>
<path d="M466.06 358.4L597.26 434.4" stroke="#93d6f0" stroke-width="1.3" stroke-opacity="0.47" fill="none" clip-path="url(#cbv)"/>
<path d="M459.16 362.4L590.36 438.4" stroke="#93d6f0" stroke-width="1.3" stroke-opacity="0.42" fill="none" clip-path="url(#cbv)"/>
<path d="M452.25 366.4L583.45 442.4" stroke="#93d6f0" stroke-width="1.3" stroke-opacity="0.37" fill="none" clip-path="url(#cbv)"/>
<path d="M445.35 370.4L576.55 446.4" stroke="#93d6f0" stroke-width="1.3" stroke-opacity="0.31" fill="none" clip-path="url(#cbv)"/>
<path d="M438.44 374.4L569.64 450.4" stroke="#93d6f0" stroke-width="1.3" stroke-opacity="0.26" fill="none" clip-path="url(#cbv)"/>
<path d="M431.54 378.4L562.74 454.4" stroke="#93d6f0" stroke-width="1.3" stroke-opacity="0.2" fill="none" clip-path="url(#cbv)"/>
<path d="M424.63 382.4L555.83 458.4" stroke="#93d6f0" stroke-width="1.3" stroke-opacity="0.15" fill="none" clip-path="url(#cbv)"/>
<path d="M417.73 386.4L548.93 462.4" stroke="#93d6f0" stroke-width="1.3" stroke-opacity="0.1" fill="none" clip-path="url(#cbv)"/>
<path d="M410.82 390.4L542.02 466.4M403.92 394.4L535.12 470.4M397.01 398.4L528.21 474.4M390.11 402.4L521.31 478.4" stroke="#93d6f0" stroke-width="1.3" stroke-opacity="0.04" fill="none" clip-path="url(#cbv)"/>
<path d="M521.31 274.7L390.11 350.7" stroke="#9fdcf4" stroke-width="0.9" stroke-opacity="0.28" fill="none" clip-path="url(#cbv)"/>
<path d="M528.21 278.7L397.01 354.7" stroke="#9fdcf4" stroke-width="0.9" stroke-opacity="0.25" fill="none" clip-path="url(#cbv)"/>
<path d="M535.12 282.7L403.92 358.7" stroke="#9fdcf4" stroke-width="0.9" stroke-opacity="0.23" fill="none" clip-path="url(#cbv)"/>
<path d="M542.02 286.7L410.82 362.7" stroke="#9fdcf4" stroke-width="0.9" stroke-opacity="0.2" fill="none" clip-path="url(#cbv)"/>
<path d="M548.93 290.7L417.73 366.7" stroke="#9fdcf4" stroke-width="0.9" stroke-opacity="0.18" fill="none" clip-path="url(#cbv)"/>
<path d="M555.83 294.7L424.63 370.7" stroke="#9fdcf4" stroke-width="0.9" stroke-opacity="0.16" fill="none" clip-path="url(#cbv)"/>
<path d="M562.74 298.7L431.54 374.7" stroke="#9fdcf4" stroke-width="0.9" stroke-opacity="0.13" fill="none" clip-path="url(#cbv)"/>
<path d="M569.64 302.7L438.44 378.7" stroke="#9fdcf4" stroke-width="0.9" stroke-opacity="0.11" fill="none" clip-path="url(#cbv)"/>
<path d="M576.55 306.7L445.35 382.7" stroke="#9fdcf4" stroke-width="0.9" stroke-opacity="0.09" fill="none" clip-path="url(#cbv)"/>
<path d="M583.45 310.7L452.25 386.7" stroke="#9fdcf4" stroke-width="0.9" stroke-opacity="0.06" fill="none" clip-path="url(#cbv)"/>
<path d="M590.36 314.7L459.16 390.7" stroke="#9fdcf4" stroke-width="0.9" stroke-opacity="0.04" fill="none" clip-path="url(#cbv)"/>
<path d="M597.26 318.7L466.06 394.7" stroke="#9fdcf4" stroke-width="0.9" stroke-opacity="0.02" fill="none" clip-path="url(#cbv)"/>
<path d="M604.17 322.7L472.97 398.7M611.07 326.7L479.87 402.7M617.98 330.7L486.78 406.7M624.88 334.7L493.68 410.7M631.79 338.7L500.59 414.7M638.69 342.7L507.49 418.7" stroke="#9fdcf4" stroke-width="0.9" stroke-opacity="0.01" fill="none" clip-path="url(#cbv)"/>
<path d="M507.49 274.7L638.69 350.7" stroke="#9fdcf4" stroke-width="0.9" stroke-opacity="0.28" fill="none" clip-path="url(#cbv)"/>
<path d="M500.59 278.7L631.79 354.7" stroke="#9fdcf4" stroke-width="0.9" stroke-opacity="0.25" fill="none" clip-path="url(#cbv)"/>
<path d="M493.68 282.7L624.88 358.7" stroke="#9fdcf4" stroke-width="0.9" stroke-opacity="0.23" fill="none" clip-path="url(#cbv)"/>
<path d="M486.78 286.7L617.98 362.7" stroke="#9fdcf4" stroke-width="0.9" stroke-opacity="0.2" fill="none" clip-path="url(#cbv)"/>
<path d="M479.87 290.7L611.07 366.7" stroke="#9fdcf4" stroke-width="0.9" stroke-opacity="0.18" fill="none" clip-path="url(#cbv)"/>
<path d="M472.97 294.7L604.17 370.7" stroke="#9fdcf4" stroke-width="0.9" stroke-opacity="0.16" fill="none" clip-path="url(#cbv)"/>
<path d="M466.06 298.7L597.26 374.7" stroke="#9fdcf4" stroke-width="0.9" stroke-opacity="0.13" fill="none" clip-path="url(#cbv)"/>
<path d="M459.16 302.7L590.36 378.7" stroke="#9fdcf4" stroke-width="0.9" stroke-opacity="0.11" fill="none" clip-path="url(#cbv)"/>
<path d="M452.25 306.7L583.45 382.7" stroke="#9fdcf4" stroke-width="0.9" stroke-opacity="0.09" fill="none" clip-path="url(#cbv)"/>
<path d="M445.35 310.7L576.55 386.7" stroke="#9fdcf4" stroke-width="0.9" stroke-opacity="0.06" fill="none" clip-path="url(#cbv)"/>
<path d="M438.44 314.7L569.64 390.7" stroke="#9fdcf4" stroke-width="0.9" stroke-opacity="0.04" fill="none" clip-path="url(#cbv)"/>
<path d="M431.54 318.7L562.74 394.7" stroke="#9fdcf4" stroke-width="0.9" stroke-opacity="0.02" fill="none" clip-path="url(#cbv)"/>
<path d="M424.63 322.7L555.83 398.7M417.73 326.7L548.93 402.7M410.82 330.7L542.02 406.7M403.92 334.7L535.12 410.7M397.01 338.7L528.21 414.7M390.11 342.7L521.31 418.7" stroke="#9fdcf4" stroke-width="0.9" stroke-opacity="0.01" fill="none" clip-path="url(#cbv)"/>
<polygon points="514.4,501.7 535.12,513.7 514.4,525.7 493.68,513.7" fill="rgba(233,80,152,0.85)" />
<polygon points="508.32,415.1 514.4,418.62 514.4,421.22 508.32,417.7" fill="#151515" stroke="#151515" stroke-linejoin="round" stroke-width="1.6"/>
<polygon points="514.4,418.62 520.48,415.1 520.48,417.7 514.4,421.22" fill="#1d1d1d" stroke="#1d1d1d" stroke-linejoin="round" stroke-width="1.6"/>
<polygon points="514.4,411.58 520.48,415.1 514.4,418.62 508.32,415.1" fill="#2a2a2a" stroke="#2a2a2a" stroke-linejoin="round" stroke-width="1.6"/>
<polygon points="556.66,435.1 562.74,438.62 562.74,441.22 556.66,437.7" fill="#9c9c9a" stroke="#9c9c9a" stroke-linejoin="round" stroke-width="1.6"/>
<polygon points="562.74,438.62 568.81,435.1 568.81,437.7 562.74,441.22" fill="#b4b4b2" stroke="#b4b4b2" stroke-linejoin="round" stroke-width="1.6"/>
<polygon points="562.74,431.58 568.81,435.1 562.74,438.62 556.66,435.1" fill="#d5d5d3" stroke="#d5d5d3" stroke-linejoin="round" stroke-width="1.6"/>
<polygon points="432.37,451.1 438.44,454.62 438.44,457.22 432.37,453.7" fill="#adaca8" stroke="#adaca8" stroke-linejoin="round" stroke-width="1.6"/>
<polygon points="438.44,454.62 444.52,451.1 444.52,453.7 438.44,457.22" fill="#c3c2be" stroke="#c3c2be" stroke-linejoin="round" stroke-width="1.6"/>
<polygon points="438.44,447.58 444.52,451.1 438.44,454.62 432.37,451.1" fill="#dddcd7" stroke="#dddcd7" stroke-linejoin="round" stroke-width="1.6"/>
<polygon points="418.55,459.1 424.63,462.62 424.63,465.22 418.55,461.7" fill="#adaca8" stroke="#adaca8" stroke-linejoin="round" stroke-width="1.6"/>
<polygon points="424.63,462.62 430.71,459.1 430.71,461.7 424.63,465.22" fill="#c3c2be" stroke="#c3c2be" stroke-linejoin="round" stroke-width="1.6"/>
<polygon points="424.63,455.58 430.71,459.1 424.63,462.62 418.55,459.1" fill="#dddcd7" stroke="#dddcd7" stroke-linejoin="round" stroke-width="1.6"/>
<polygon points="591.19,463.1 597.26,466.62 597.26,469.22 591.19,465.7" fill="#151515" stroke="#151515" stroke-linejoin="round" stroke-width="1.6"/>
<polygon points="597.26,466.62 603.34,463.1 603.34,465.7 597.26,469.22" fill="#1d1d1d" stroke="#1d1d1d" stroke-linejoin="round" stroke-width="1.6"/>
<polygon points="597.26,459.58 603.34,463.1 597.26,466.62 591.19,463.1" fill="#2a2a2a" stroke="#2a2a2a" stroke-linejoin="round" stroke-width="1.6"/>
<polygon points="418.55,467.1 424.63,470.62 424.63,473.22 418.55,469.7" fill="#adaca8" stroke="#adaca8" stroke-linejoin="round" stroke-width="1.6"/>
<polygon points="424.63,470.62 430.71,467.1 430.71,469.7 424.63,473.22" fill="#c3c2be" stroke="#c3c2be" stroke-linejoin="round" stroke-width="1.6"/>
<polygon points="424.63,463.58 430.71,467.1 424.63,470.62 418.55,467.1" fill="#dddcd7" stroke="#dddcd7" stroke-linejoin="round" stroke-width="1.6"/>
<polygon points="432.37,467.1 438.44,470.62 438.44,473.22 432.37,469.7" fill="#151515" stroke="#151515" stroke-linejoin="round" stroke-width="1.6"/>
<polygon points="438.44,470.62 444.52,467.1 444.52,469.7 438.44,473.22" fill="#1d1d1d" stroke="#1d1d1d" stroke-linejoin="round" stroke-width="1.6"/>
<polygon points="438.44,463.58 444.52,467.1 438.44,470.62 432.37,467.1" fill="#2a2a2a" stroke="#2a2a2a" stroke-linejoin="round" stroke-width="1.6"/>
<polygon points="425.46,471.1 431.54,474.62 431.54,477.22 425.46,473.7" fill="#adaca8" stroke="#adaca8" stroke-linejoin="round" stroke-width="1.6"/>
<polygon points="431.54,474.62 437.61,471.1 437.61,473.7 431.54,477.22" fill="#c3c2be" stroke="#c3c2be" stroke-linejoin="round" stroke-width="1.6"/>
<polygon points="431.54,467.58 437.61,471.1 431.54,474.62 425.46,471.1" fill="#dddcd7" stroke="#dddcd7" stroke-linejoin="round" stroke-width="1.6"/>
<polygon points="432.37,475.1 438.44,478.62 438.44,481.22 432.37,477.7" fill="#151515" stroke="#151515" stroke-linejoin="round" stroke-width="1.6"/>
<polygon points="438.44,478.62 444.52,475.1 444.52,477.7 438.44,481.22" fill="#1d1d1d" stroke="#1d1d1d" stroke-linejoin="round" stroke-width="1.6"/>
<polygon points="438.44,471.58 444.52,475.1 438.44,478.62 432.37,475.1" fill="#2a2a2a" stroke="#2a2a2a" stroke-linejoin="round" stroke-width="1.6"/>
<polygon points="446.18,475.1 452.25,478.62 452.25,481.22 446.18,477.7" fill="#151515" stroke="#151515" stroke-linejoin="round" stroke-width="1.6"/>
<polygon points="452.25,478.62 458.33,475.1 458.33,477.7 452.25,481.22" fill="#1d1d1d" stroke="#1d1d1d" stroke-linejoin="round" stroke-width="1.6"/>
<polygon points="452.25,471.58 458.33,475.1 452.25,478.62 446.18,475.1" fill="#2a2a2a" stroke="#2a2a2a" stroke-linejoin="round" stroke-width="1.6"/>
<polygon points="466.89,487.1 472.97,490.62 472.97,493.22 466.89,489.7" fill="#adaca8" stroke="#adaca8" stroke-linejoin="round" stroke-width="1.6"/>
<polygon points="472.97,490.62 479.05,487.1 479.05,489.7 472.97,493.22" fill="#c3c2be" stroke="#c3c2be" stroke-linejoin="round" stroke-width="1.6"/>
<polygon points="472.97,483.58 479.05,487.1 472.97,490.62 466.89,487.1" fill="#dddcd7" stroke="#dddcd7" stroke-linejoin="round" stroke-width="1.6"/>
<polygon points="480.7,487.1 486.78,490.62 486.78,493.22 480.7,489.7" fill="#151515" stroke="#151515" stroke-linejoin="round" stroke-width="1.6"/>
<polygon points="486.78,490.62 492.86,487.1 492.86,489.7 486.78,493.22" fill="#1d1d1d" stroke="#1d1d1d" stroke-linejoin="round" stroke-width="1.6"/>
<polygon points="486.78,483.58 492.86,487.1 486.78,490.62 480.7,487.1" fill="#2a2a2a" stroke="#2a2a2a" stroke-linejoin="round" stroke-width="1.6"/>
<polygon points="459.99,491.1 466.06,494.62 466.06,497.22 459.99,493.7" fill="#151515" stroke="#151515" stroke-linejoin="round" stroke-width="1.6"/>
<polygon points="466.06,494.62 472.14,491.1 472.14,493.7 466.06,497.22" fill="#1d1d1d" stroke="#1d1d1d" stroke-linejoin="round" stroke-width="1.6"/>
<polygon points="466.06,487.58 472.14,491.1 466.06,494.62 459.99,491.1" fill="#2a2a2a" stroke="#2a2a2a" stroke-linejoin="round" stroke-width="1.6"/>
<polygon points="473.8,491.1 479.87,494.62 479.87,497.22 473.8,493.7" fill="#adaca8" stroke="#adaca8" stroke-linejoin="round" stroke-width="1.6"/>
<polygon points="479.87,494.62 485.95,491.1 485.95,493.7 479.87,497.22" fill="#c3c2be" stroke="#c3c2be" stroke-linejoin="round" stroke-width="1.6"/>
<polygon points="479.87,487.58 485.95,491.1 479.87,494.62 473.8,491.1" fill="#dddcd7" stroke="#dddcd7" stroke-linejoin="round" stroke-width="1.6"/>
<polygon points="453.08,495.1 459.16,498.62 459.16,501.22 453.08,497.7" fill="#151515" stroke="#151515" stroke-linejoin="round" stroke-width="1.6"/>
<polygon points="459.16,498.62 465.23,495.1 465.23,497.7 459.16,501.22" fill="#1d1d1d" stroke="#1d1d1d" stroke-linejoin="round" stroke-width="1.6"/>
<polygon points="459.16,491.58 465.23,495.1 459.16,498.62 453.08,495.1" fill="#2a2a2a" stroke="#2a2a2a" stroke-linejoin="round" stroke-width="1.6"/>
<polygon points="466.89,495.1 472.97,498.62 472.97,501.22 466.89,497.7" fill="#151515" stroke="#151515" stroke-linejoin="round" stroke-width="1.6"/>
<polygon points="472.97,498.62 479.05,495.1 479.05,497.7 472.97,501.22" fill="#1d1d1d" stroke="#1d1d1d" stroke-linejoin="round" stroke-width="1.6"/>
<polygon points="472.97,491.58 479.05,495.1 472.97,498.62 466.89,495.1" fill="#2a2a2a" stroke="#2a2a2a" stroke-linejoin="round" stroke-width="1.6"/>
<polygon points="494.51,495.1 500.59,498.62 500.59,501.22 494.51,497.7" fill="#adaca8" stroke="#adaca8" stroke-linejoin="round" stroke-width="1.6"/>
<polygon points="500.59,498.62 506.67,495.1 506.67,497.7 500.59,501.22" fill="#c3c2be" stroke="#c3c2be" stroke-linejoin="round" stroke-width="1.6"/>
<polygon points="500.59,491.58 506.67,495.1 500.59,498.62 494.51,495.1" fill="#dddcd7" stroke="#dddcd7" stroke-linejoin="round" stroke-width="1.6"/>
<polygon points="549.75,495.1 555.83,498.62 555.83,501.22 549.75,497.7" fill="#151515" stroke="#151515" stroke-linejoin="round" stroke-width="1.6"/>
<polygon points="555.83,498.62 561.91,495.1 561.91,497.7 555.83,501.22" fill="#1d1d1d" stroke="#1d1d1d" stroke-linejoin="round" stroke-width="1.6"/>
<polygon points="555.83,491.58 561.91,495.1 555.83,498.62 549.75,495.1" fill="#2a2a2a" stroke="#2a2a2a" stroke-linejoin="round" stroke-width="1.6"/>
<polygon points="459.99,499.1 466.06,502.62 466.06,505.22 459.99,501.7" fill="#adaca8" stroke="#adaca8" stroke-linejoin="round" stroke-width="1.6"/>
<polygon points="466.06,502.62 472.14,499.1 472.14,501.7 466.06,505.22" fill="#c3c2be" stroke="#c3c2be" stroke-linejoin="round" stroke-width="1.6"/>
<polygon points="466.06,495.58 472.14,499.1 466.06,502.62 459.99,499.1" fill="#dddcd7" stroke="#dddcd7" stroke-linejoin="round" stroke-width="1.6"/>
<polygon points="473.8,499.1 479.87,502.62 479.87,505.22 473.8,501.7" fill="#adaca8" stroke="#adaca8" stroke-linejoin="round" stroke-width="1.6"/>
<polygon points="479.87,502.62 485.95,499.1 485.95,501.7 479.87,505.22" fill="#c3c2be" stroke="#c3c2be" stroke-linejoin="round" stroke-width="1.6"/>
<polygon points="479.87,495.58 485.95,499.1 479.87,502.62 473.8,499.1" fill="#dddcd7" stroke="#dddcd7" stroke-linejoin="round" stroke-width="1.6"/>
<polygon points="515.23,499.1 521.31,502.62 521.31,505.22 515.23,501.7" fill="#151515" stroke="#151515" stroke-linejoin="round" stroke-width="1.6"/>
<polygon points="521.31,502.62 527.38,499.1 527.38,501.7 521.31,505.22" fill="#1d1d1d" stroke="#1d1d1d" stroke-linejoin="round" stroke-width="1.6"/>
<polygon points="521.31,495.58 527.38,499.1 521.31,502.62 515.23,499.1" fill="#2a2a2a" stroke="#2a2a2a" stroke-linejoin="round" stroke-width="1.6"/>
<polygon points="466.89,503.1 472.97,506.62 472.97,509.22 466.89,505.7" fill="#151515" stroke="#151515" stroke-linejoin="round" stroke-width="1.6"/>
<polygon points="472.97,506.62 479.05,503.1 479.05,505.7 472.97,509.22" fill="#1d1d1d" stroke="#1d1d1d" stroke-linejoin="round" stroke-width="1.6"/>
<polygon points="472.97,499.58 479.05,503.1 472.97,506.62 466.89,503.1" fill="#2a2a2a" stroke="#2a2a2a" stroke-linejoin="round" stroke-width="1.6"/>
<polygon points="480.7,503.1 486.78,506.62 486.78,509.22 480.7,505.7" fill="#adaca8" stroke="#adaca8" stroke-linejoin="round" stroke-width="1.6"/>
<polygon points="486.78,506.62 492.86,503.1 492.86,505.7 486.78,509.22" fill="#c3c2be" stroke="#c3c2be" stroke-linejoin="round" stroke-width="1.6"/>
<polygon points="486.78,499.58 492.86,503.1 486.78,506.62 480.7,503.1" fill="#dddcd7" stroke="#dddcd7" stroke-linejoin="round" stroke-width="1.6"/>
<polygon points="473.8,507.1 479.87,510.62 479.87,513.22 473.8,509.7" fill="#adaca8" stroke="#adaca8" stroke-linejoin="round" stroke-width="1.6"/>
<polygon points="479.87,510.62 485.95,507.1 485.95,509.7 479.87,513.22" fill="#c3c2be" stroke="#c3c2be" stroke-linejoin="round" stroke-width="1.6"/>
<polygon points="479.87,503.58 485.95,507.1 479.87,510.62 473.8,507.1" fill="#dddcd7" stroke="#dddcd7" stroke-linejoin="round" stroke-width="1.6"/>
<polygon points="529.04,507.1 535.12,510.62 535.12,513.22 529.04,509.7" fill="#151515" stroke="#151515" stroke-linejoin="round" stroke-width="1.6"/>
<polygon points="535.12,510.62 541.19,507.1 541.19,509.7 535.12,513.22" fill="#1d1d1d" stroke="#1d1d1d" stroke-linejoin="round" stroke-width="1.6"/>
<polygon points="535.12,503.58 541.19,507.1 535.12,510.62 529.04,507.1" fill="#2a2a2a" stroke="#2a2a2a" stroke-linejoin="round" stroke-width="1.6"/>
<polygon points="480.7,511.1 486.78,514.62 486.78,517.22 480.7,513.7" fill="#adaca8" stroke="#adaca8" stroke-linejoin="round" stroke-width="1.6"/>
<polygon points="486.78,514.62 492.86,511.1 492.86,513.7 486.78,517.22" fill="#c3c2be" stroke="#c3c2be" stroke-linejoin="round" stroke-width="1.6"/>
<polygon points="486.78,507.58 492.86,511.1 486.78,514.62 480.7,511.1" fill="#dddcd7" stroke="#dddcd7" stroke-linejoin="round" stroke-width="1.6"/>
<polygon points="494.51,511.1 500.59,514.62 500.59,517.22 494.51,513.7" fill="#151515" stroke="#151515" stroke-linejoin="round" stroke-width="1.6"/>
<polygon points="500.59,514.62 506.67,511.1 506.67,513.7 500.59,517.22" fill="#1d1d1d" stroke="#1d1d1d" stroke-linejoin="round" stroke-width="1.6"/>
<polygon points="500.59,507.58 506.67,511.1 500.59,514.62 494.51,511.1" fill="#2a2a2a" stroke="#2a2a2a" stroke-linejoin="round" stroke-width="1.6"/>
<polygon points="508.32,511.1 514.4,514.62 514.4,517.22 508.32,513.7" fill="#adaca8" stroke="#adaca8" stroke-linejoin="round" stroke-width="1.6"/>
<polygon points="514.4,514.62 520.48,511.1 520.48,513.7 514.4,517.22" fill="#c3c2be" stroke="#c3c2be" stroke-linejoin="round" stroke-width="1.6"/>
<polygon points="514.4,507.58 520.48,511.1 514.4,514.62 508.32,511.1" fill="#dddcd7" stroke="#dddcd7" stroke-linejoin="round" stroke-width="1.6"/>
<polygon points="501.42,515.1 507.49,518.62 507.49,521.22 501.42,517.7" fill="#adaca8" stroke="#adaca8" stroke-linejoin="round" stroke-width="1.6"/>
<polygon points="507.49,518.62 513.57,515.1 513.57,517.7 507.49,521.22" fill="#c3c2be" stroke="#c3c2be" stroke-linejoin="round" stroke-width="1.6"/>
<polygon points="507.49,511.58 513.57,515.1 507.49,518.62 501.42,515.1" fill="#dddcd7" stroke="#dddcd7" stroke-linejoin="round" stroke-width="1.6"/>
<polygon points="515.23,515.1 521.31,518.62 521.31,521.22 515.23,517.7" fill="#adaca8" stroke="#adaca8" stroke-linejoin="round" stroke-width="1.6"/>
<polygon points="521.31,518.62 527.38,515.1 527.38,517.7 521.31,521.22" fill="#c3c2be" stroke="#c3c2be" stroke-linejoin="round" stroke-width="1.6"/>
<polygon points="521.31,511.58 527.38,515.1 521.31,518.62 515.23,515.1" fill="#dddcd7" stroke="#dddcd7" stroke-linejoin="round" stroke-width="1.6"/>
<polygon points="508.32,519.1 514.4,522.62 514.4,525.22 508.32,521.7" fill="#adaca8" stroke="#adaca8" stroke-linejoin="round" stroke-width="1.6"/>
<polygon points="514.4,522.62 520.48,519.1 520.48,521.7 514.4,525.22" fill="#c3c2be" stroke="#c3c2be" stroke-linejoin="round" stroke-width="1.6"/>
<polygon points="514.4,515.58 520.48,519.1 514.4,522.62 508.32,519.1" fill="#dddcd7" stroke="#dddcd7" stroke-linejoin="round" stroke-width="1.6"/>
<defs><linearGradient id="blv" x1="0" y1="528" x2="0" y2="372" gradientUnits="userSpaceOnUse"><stop offset="0.000" stop-color="#f0509c" stop-opacity="0.7"/><stop offset="0.147" stop-color="#ec539d" stop-opacity="0.72"/><stop offset="0.263" stop-color="#e658a2" stop-opacity="0.68"/><stop offset="0.372" stop-color="#de5ea6" stop-opacity="0.57"/><stop offset="0.500" stop-color="#d266ac" stop-opacity="0.42"/><stop offset="0.692" stop-color="#c874b6" stop-opacity="0.3"/><stop offset="0.872" stop-color="#cc86c0" stop-opacity="0.28"/><stop offset="0.910" stop-color="#e29ccb" stop-opacity="0.48"/><stop offset="1.000" stop-color="#e6a6cf" stop-opacity="0.45"/></linearGradient><linearGradient id="brv" x1="0" y1="528" x2="0" y2="372" gradientUnits="userSpaceOnUse"><stop offset="0.000" stop-color="#c45cae" stop-opacity="0.62"/><stop offset="0.147" stop-color="#b868b8" stop-opacity="0.52"/><stop offset="0.372" stop-color="#a074c2" stop-opacity="0.36"/><stop offset="0.564" stop-color="#9a80c6" stop-opacity="0.26"/><stop offset="0.872" stop-color="#a890cc" stop-opacity="0.22"/><stop offset="0.910" stop-color="#d6a4d2" stop-opacity="0.42"/><stop offset="1.000" stop-color="#dcb0d6" stop-opacity="0.4"/></linearGradient></defs>
<polygon points="493.4,514.5 515,528.7 515,378.5 508.4,375" fill="url(#blv)" />
<polygon points="515,528.7 535.6,516 521.6,375 515,378.5" fill="url(#brv)" />
<line x1="515" y1="528.7" x2="515" y2="378.5" stroke="#e8408f" stroke-width="0.8" stroke-opacity="0.35"/>
<g style="mix-blend-mode:multiply">
<polygon points="383.2,228 514.4,304 514.4,307.8 383.2,231.8" fill="#d3e4ec" />
<polygon points="514.4,304 645.6,228 645.6,231.8 514.4,307.8" fill="#e0edf2" />
<polygon points="514.4,152 645.6,228 514.4,304 383.2,228" fill="#cbe0eb" />
</g>
<path d="M521.31 156L390.11 232" stroke="#ffffff" stroke-width="0.9" stroke-opacity="0.23" fill="none"/>
<path d="M528.21 160L397.01 236" stroke="#ffffff" stroke-width="0.9" stroke-opacity="0.21" fill="none"/>
<path d="M535.12 164L403.92 240" stroke="#ffffff" stroke-width="0.9" stroke-opacity="0.2" fill="none"/>
<path d="M542.02 168L410.82 244" stroke="#ffffff" stroke-width="0.9" stroke-opacity="0.19" fill="none"/>
<path d="M548.93 172L417.73 248" stroke="#ffffff" stroke-width="0.9" stroke-opacity="0.17" fill="none"/>
<path d="M555.83 176L424.63 252" stroke="#ffffff" stroke-width="0.9" stroke-opacity="0.16" fill="none"/>
<path d="M562.74 180L431.54 256" stroke="#ffffff" stroke-width="0.9" stroke-opacity="0.14" fill="none"/>
<path d="M569.64 184L438.44 260" stroke="#ffffff" stroke-width="0.9" stroke-opacity="0.13" fill="none"/>
<path d="M576.55 188L445.35 264" stroke="#ffffff" stroke-width="0.9" stroke-opacity="0.12" fill="none"/>
<path d="M583.45 192L452.25 268" stroke="#ffffff" stroke-width="0.9" stroke-opacity="0.1" fill="none"/>
<path d="M590.36 196L459.16 272" stroke="#ffffff" stroke-width="0.9" stroke-opacity="0.09" fill="none"/>
<path d="M597.26 200L466.06 276" stroke="#ffffff" stroke-width="0.9" stroke-opacity="0.08" fill="none"/>
<path d="M604.17 204L472.97 280" stroke="#ffffff" stroke-width="0.9" stroke-opacity="0.06" fill="none"/>
<path d="M611.07 208L479.87 284M617.98 212L486.78 288M624.88 216L493.68 292M631.79 220L500.59 296M638.69 224L507.49 300" stroke="#ffffff" stroke-width="0.9" stroke-opacity="0.05" fill="none"/>
<path d="M507.49 156L638.69 232" stroke="#ffffff" stroke-width="0.9" stroke-opacity="0.23" fill="none"/>
<path d="M500.59 160L631.79 236" stroke="#ffffff" stroke-width="0.9" stroke-opacity="0.21" fill="none"/>
<path d="M493.68 164L624.88 240" stroke="#ffffff" stroke-width="0.9" stroke-opacity="0.2" fill="none"/>
<path d="M486.78 168L617.98 244" stroke="#ffffff" stroke-width="0.9" stroke-opacity="0.19" fill="none"/>
<path d="M479.87 172L611.07 248" stroke="#ffffff" stroke-width="0.9" stroke-opacity="0.17" fill="none"/>
<path d="M472.97 176L604.17 252" stroke="#ffffff" stroke-width="0.9" stroke-opacity="0.16" fill="none"/>
<path d="M466.06 180L597.26 256" stroke="#ffffff" stroke-width="0.9" stroke-opacity="0.14" fill="none"/>
<path d="M459.16 184L590.36 260" stroke="#ffffff" stroke-width="0.9" stroke-opacity="0.13" fill="none"/>
<path d="M452.25 188L583.45 264" stroke="#ffffff" stroke-width="0.9" stroke-opacity="0.12" fill="none"/>
<path d="M445.35 192L576.55 268" stroke="#ffffff" stroke-width="0.9" stroke-opacity="0.1" fill="none"/>
<path d="M438.44 196L569.64 272" stroke="#ffffff" stroke-width="0.9" stroke-opacity="0.09" fill="none"/>
<path d="M431.54 200L562.74 276" stroke="#ffffff" stroke-width="0.9" stroke-opacity="0.08" fill="none"/>
<path d="M424.63 204L555.83 280" stroke="#ffffff" stroke-width="0.9" stroke-opacity="0.06" fill="none"/>
<path d="M417.73 208L548.93 284M410.82 212L542.02 288M403.92 216L535.12 292M397.01 220L528.21 296M390.11 224L521.31 300" stroke="#ffffff" stroke-width="0.9" stroke-opacity="0.05" fill="none"/>
<path d="M517.85 154L386.65 230M583.45 192L452.25 268" stroke="#ffffff" stroke-width="1.2" stroke-opacity="0.15" fill="none"/>
<path d="M521.31 156L390.11 232M576.55 188L445.35 264" stroke="#ffffff" stroke-width="1.2" stroke-opacity="0.2" fill="none"/>
<path d="M524.76 158L393.56 234M566.19 182L434.99 258" stroke="#ffffff" stroke-width="1.2" stroke-opacity="0.36" fill="none"/>
<path d="M528.21 160L397.01 236" stroke="#ffffff" stroke-width="1.2" stroke-opacity="0.59" fill="none"/>
<path d="M531.66 162L400.46 238" stroke="#ffffff" stroke-width="1.2" stroke-opacity="0.48" fill="none"/>
<path d="M535.12 164L403.92 240M545.47 170L414.27 246" stroke="#ffffff" stroke-width="1.2" stroke-opacity="0.4" fill="none"/>
<path d="M538.57 166L407.37 242M559.28 178L428.08 254" stroke="#ffffff" stroke-width="1.2" stroke-opacity="0.43" fill="none"/>
<path d="M542.02 168L410.82 244" stroke="#ffffff" stroke-width="1.2" stroke-opacity="0.55" fill="none"/>
<path d="M548.93 172L417.73 248" stroke="#ffffff" stroke-width="1.2" stroke-opacity="0.34" fill="none"/>
<path d="M552.38 174L421.18 250" stroke="#ffffff" stroke-width="1.2" stroke-opacity="0.23" fill="none"/>
<path d="M555.83 176L424.63 252" stroke="#ffffff" stroke-width="1.2" stroke-opacity="0.44" fill="none"/>
<path d="M562.74 180L431.54 256" stroke="#ffffff" stroke-width="1.2" stroke-opacity="0.39" fill="none"/>
<path d="M569.64 184L438.44 260" stroke="#ffffff" stroke-width="1.2" stroke-opacity="0.41" fill="none"/>
<path d="M573.09 186L441.89 262" stroke="#ffffff" stroke-width="1.2" stroke-opacity="0.45" fill="none"/>
<path d="M580 190L448.8 266M590.36 196L459.16 272" stroke="#ffffff" stroke-width="1.2" stroke-opacity="0.09" fill="none"/>
<path d="M586.91 194L455.71 270M593.81 198L462.61 274" stroke="#ffffff" stroke-width="1.2" stroke-opacity="0.05" fill="none"/>
<path d="M597.26 200L466.06 276" stroke="#ffffff" stroke-width="1.2" stroke-opacity="0.03" fill="none"/>
<path d="M600.72 202L469.52 278" stroke="#ffffff" stroke-width="1.2" stroke-opacity="0.01" fill="none"/>
<path d="M510.95 154L642.15 230" stroke="#ffffff" stroke-width="1.2" stroke-opacity="0.15" fill="none"/>
<path d="M507.49 156L638.69 232" stroke="#ffffff" stroke-width="1.2" stroke-opacity="0.2" fill="none"/>
<path d="M504.04 158L635.24 234" stroke="#ffffff" stroke-width="1.2" stroke-opacity="0.44" fill="none"/>
<path d="M500.59 160L631.79 236" stroke="#ffffff" stroke-width="1.2" stroke-opacity="0.59" fill="none"/>
<path d="M497.14 162L628.34 238" stroke="#ffffff" stroke-width="1.2" stroke-opacity="0.47" fill="none"/>
<path d="M493.68 164L624.88 240" stroke="#ffffff" stroke-width="1.2" stroke-opacity="0.3" fill="none"/>
<path d="M490.23 166L621.43 242M486.78 168L617.98 244" stroke="#ffffff" stroke-width="1.2" stroke-opacity="0.32" fill="none"/>
<path d="M483.33 170L614.53 246M479.87 172L611.07 248M472.97 176L604.17 252M469.52 178L600.72 254" stroke="#ffffff" stroke-width="1.2" stroke-opacity="0.43" fill="none"/>
<path d="M476.42 174L607.62 250M455.71 186L586.91 262" stroke="#ffffff" stroke-width="1.2" stroke-opacity="0.48" fill="none"/>
<path d="M466.06 180L597.26 256" stroke="#ffffff" stroke-width="1.2" stroke-opacity="0.61" fill="none"/>
<path d="M462.61 182L593.81 258" stroke="#ffffff" stroke-width="1.2" stroke-opacity="0.29" fill="none"/>
<path d="M459.16 184L590.36 260" stroke="#ffffff" stroke-width="1.2" stroke-opacity="0.5" fill="none"/>
<path d="M452.25 188L583.45 264" stroke="#ffffff" stroke-width="1.2" stroke-opacity="0.16" fill="none"/>
<path d="M448.8 190L580 266" stroke="#ffffff" stroke-width="1.2" stroke-opacity="0.09" fill="none"/>
<path d="M445.35 192L576.55 268" stroke="#ffffff" stroke-width="1.2" stroke-opacity="0.1" fill="none"/>
<path d="M441.89 194L573.09 270" stroke="#ffffff" stroke-width="1.2" stroke-opacity="0.08" fill="none"/>
<path d="M438.44 196L569.64 272" stroke="#ffffff" stroke-width="1.2" stroke-opacity="0.06" fill="none"/>
<path d="M434.99 198L566.19 274M431.54 200L562.74 276" stroke="#ffffff" stroke-width="1.2" stroke-opacity="0.04" fill="none"/>
<path d="M428.08 202L559.28 278" stroke="#ffffff" stroke-width="1.2" stroke-opacity="0.01" fill="none"/>
<circle cx="514.1" cy="328.2" r="6.5" fill="#3b3b3d"/>
<circle cx="514.1" cy="348.4" r="6.5" fill="#3b3b3d"/>
<circle cx="514.1" cy="368.5" r="6.5" fill="#3b3b3d"/>
<defs><linearGradient id="pyl" x1="0" y1="141" x2="0" y2="304" gradientUnits="userSpaceOnUse"><stop offset="0.000" stop-color="#ee8fae" stop-opacity="0.3"/><stop offset="0.301" stop-color="#e57ea6" stop-opacity="0.37"/><stop offset="0.534" stop-color="#df6a9e" stop-opacity="0.48"/><stop offset="0.761" stop-color="#da5093" stop-opacity="0.7"/><stop offset="1.000" stop-color="#d6398a" stop-opacity="0.92"/></linearGradient><linearGradient id="pyr" x1="0" y1="141" x2="0" y2="304" gradientUnits="userSpaceOnUse"><stop offset="0.000" stop-color="#f0a0b8" stop-opacity="0.12"/><stop offset="0.301" stop-color="#e290b4" stop-opacity="0.25"/><stop offset="0.534" stop-color="#d878a8" stop-opacity="0.4"/><stop offset="0.761" stop-color="#d25a9a" stop-opacity="0.6"/><stop offset="1.000" stop-color="#cf3f8c" stop-opacity="0.88"/></linearGradient></defs>
<polygon points="514.4,141 383.2,228 514.4,304" fill="url(#pyl)" />
<polygon points="514.4,141 514.4,304 645.6,228" fill="url(#pyr)" />
<line x1="514.4" y1="141" x2="514.4" y2="304" stroke="#e88ab4" stroke-width="0.8" stroke-opacity="0.4"/>
<polygon points="507.5,136.6 514.2,140.5 514.2,143.2 507.5,139.3" fill="#0f628e" />
<polygon points="514.2,140.5 520.9,136.6 520.9,139.3 514.2,143.2" fill="#136d9c" />
<polygon points="514.2,132.7 520.9,136.6 514.2,140.5 507.5,136.6" fill="#1779aa" />
</g>
<g font-family="'Liberation Sans', sans-serif" fill="#1d1d1f" stroke="#1d1d1f" stroke-width="0.25">
<text x="189.4" y="26.3" font-size="25.8" text-anchor="middle">Policy network</text>
<text x="434.4" y="26.3" font-size="25.8" letter-spacing="-0.13">Value network</text>
<text y="112" font-size="25.5" font-style="italic"><tspan x="165.8">p</tspan></text>
<text x="181" y="118.4" font-size="16.5" font-style="italic" letter-spacing="0.6">σ/ρ</text>
<text y="112" font-size="25.5"><tspan x="212.8">(</tspan><tspan x="219.3" font-style="italic">a</tspan><tspan x="235.2">|</tspan><tspan x="244.6" font-style="italic">s</tspan><tspan x="256.2">)</tspan></text>
<text x="484.9" y="112.3" font-size="27" font-style="italic" font-family="'Liberation Serif', serif">ν</text>
<text x="496.6" y="120.6" font-size="19" font-style="italic" font-family="'Liberation Serif', serif">θ</text>
<text y="112" font-size="25.5"><tspan x="511.6">(</tspan><tspan x="518.6" font-style="italic">s</tspan><tspan x="530.5">′</tspan><tspan x="536">)</tspan></text>
<text x="271.5" y="534.8" font-size="25.5" font-style="italic">s</text>
<text x="585.8" y="533.6" font-size="25.5" font-style="italic">s<tspan font-style="normal" dx="0.5">′</tspan></text>
</g>
</svg>
</body></html>
